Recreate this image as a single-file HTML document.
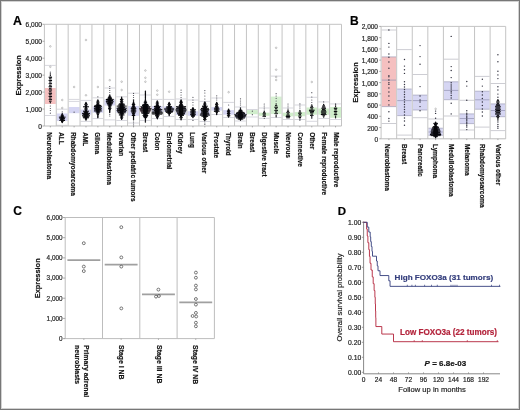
<!DOCTYPE html>
<html><head><meta charset="utf-8"><style>
html,body{margin:0;padding:0;background:#fff;}
body{width:520px;height:410px;overflow:hidden;}
svg{display:block;font-family:"Liberation Sans", sans-serif;will-change:transform;}
text{stroke:currentColor;stroke-width:0.18px;}
</style></head><body>
<svg width="520" height="410" viewBox="0 0 520 410">
<rect x="0" y="0" width="520" height="410" fill="#fff"/>
<rect x="44.9" y="88" width="10.88" height="16" fill="#e03c3c" fill-opacity="0.32"/>
<rect x="56.78" y="113.5" width="10.88" height="7.5" fill="#4646c8" fill-opacity="0.22"/>
<rect x="68.67" y="107" width="10.88" height="6.2" fill="#4646c8" fill-opacity="0.22"/>
<rect x="80.55" y="109.6" width="10.88" height="5.1" fill="#4646c8" fill-opacity="0.22"/>
<rect x="92.44" y="106.5" width="10.88" height="6.2" fill="#4646c8" fill-opacity="0.22"/>
<rect x="104.32" y="99.4" width="10.88" height="6.1" fill="#4646c8" fill-opacity="0.22"/>
<rect x="116.2" y="107.6" width="10.88" height="5.1" fill="#4646c8" fill-opacity="0.22"/>
<rect x="128.09" y="106" width="10.88" height="9.8" fill="#4646c8" fill-opacity="0.22"/>
<rect x="139.97" y="107" width="10.88" height="5.2" fill="#c04068" fill-opacity="0.25"/>
<rect x="151.86" y="106" width="10.88" height="6" fill="#4646c8" fill-opacity="0.22"/>
<rect x="163.74" y="106.5" width="10.88" height="5.5" fill="#4646c8" fill-opacity="0.22"/>
<rect x="175.62" y="108" width="10.88" height="7" fill="#4646c8" fill-opacity="0.22"/>
<rect x="187.51" y="111.2" width="10.88" height="4.6" fill="#4646c8" fill-opacity="0.22"/>
<rect x="199.39" y="109.6" width="10.88" height="6.2" fill="#4646c8" fill-opacity="0.22"/>
<rect x="211.28" y="107" width="10.88" height="3.6" fill="#4646c8" fill-opacity="0.22"/>
<rect x="223.16" y="110.1" width="10.88" height="4.6" fill="#4646c8" fill-opacity="0.22"/>
<rect x="235.04" y="113" width="10.88" height="5" fill="#4646c8" fill-opacity="0.22"/>
<rect x="246.93" y="110.1" width="10.88" height="4.1" fill="#50c040" fill-opacity="0.27"/>
<rect x="258.81" y="112.7" width="10.88" height="3.1" fill="#50c040" fill-opacity="0.27"/>
<rect x="270.7" y="96.6" width="10.88" height="17.4" fill="#50c040" fill-opacity="0.24"/>
<rect x="282.58" y="112.7" width="10.88" height="3.6" fill="#50c040" fill-opacity="0.27"/>
<rect x="294.46" y="112.1" width="10.88" height="4.1" fill="#50c040" fill-opacity="0.27"/>
<rect x="306.35" y="107.5" width="10.88" height="7.2" fill="#50c040" fill-opacity="0.27"/>
<rect x="318.23" y="108.5" width="10.88" height="6.2" fill="#50c040" fill-opacity="0.27"/>
<rect x="330.12" y="107" width="10.88" height="10.8" fill="#50c040" fill-opacity="0.27"/>
<line x1="45" y1="65.4" x2="55.68" y2="65.4" stroke="#c6c6d0" stroke-width="0.7" />
<line x1="45" y1="115.5" x2="55.68" y2="115.5" stroke="#c6c6d0" stroke-width="0.7" />
<line x1="56.88" y1="109.2" x2="67.57" y2="109.2" stroke="#c6c6d0" stroke-width="0.7" />
<line x1="56.88" y1="125.3" x2="67.57" y2="125.3" stroke="#c6c6d0" stroke-width="0.7" />
<line x1="68.77" y1="99.4" x2="79.45" y2="99.4" stroke="#c6c6d0" stroke-width="0.7" />
<line x1="68.77" y1="101.4" x2="79.45" y2="101.4" stroke="#c6c6d0" stroke-width="0.7" />
<line x1="80.65" y1="100.4" x2="91.34" y2="100.4" stroke="#c6c6d0" stroke-width="0.7" />
<line x1="80.65" y1="121.4" x2="91.34" y2="121.4" stroke="#c6c6d0" stroke-width="0.7" />
<line x1="92.54" y1="97.8" x2="103.22" y2="97.8" stroke="#c6c6d0" stroke-width="0.7" />
<line x1="92.54" y1="118.5" x2="103.22" y2="118.5" stroke="#c6c6d0" stroke-width="0.7" />
<line x1="104.42" y1="88" x2="115.1" y2="88" stroke="#c6c6d0" stroke-width="0.7" />
<line x1="104.42" y1="119.9" x2="115.1" y2="119.9" stroke="#c6c6d0" stroke-width="0.7" />
<line x1="116.3" y1="96.8" x2="126.99" y2="96.8" stroke="#c6c6d0" stroke-width="0.7" />
<line x1="116.3" y1="120.5" x2="126.99" y2="120.5" stroke="#c6c6d0" stroke-width="0.7" />
<line x1="128.19" y1="93.2" x2="138.87" y2="93.2" stroke="#c6c6d0" stroke-width="0.7" />
<line x1="128.19" y1="123" x2="138.87" y2="123" stroke="#c6c6d0" stroke-width="0.7" />
<line x1="140.07" y1="95" x2="150.76" y2="95" stroke="#c6c6d0" stroke-width="0.7" />
<line x1="140.07" y1="120.5" x2="150.76" y2="120.5" stroke="#c6c6d0" stroke-width="0.7" />
<line x1="151.96" y1="99.4" x2="162.64" y2="99.4" stroke="#c6c6d0" stroke-width="0.7" />
<line x1="151.96" y1="118.5" x2="162.64" y2="118.5" stroke="#c6c6d0" stroke-width="0.7" />
<line x1="163.84" y1="99.4" x2="174.52" y2="99.4" stroke="#c6c6d0" stroke-width="0.7" />
<line x1="163.84" y1="116.5" x2="174.52" y2="116.5" stroke="#c6c6d0" stroke-width="0.7" />
<line x1="175.72" y1="99" x2="186.41" y2="99" stroke="#c6c6d0" stroke-width="0.7" />
<line x1="175.72" y1="119.5" x2="186.41" y2="119.5" stroke="#c6c6d0" stroke-width="0.7" />
<line x1="187.61" y1="100" x2="198.29" y2="100" stroke="#c6c6d0" stroke-width="0.7" />
<line x1="187.61" y1="119.5" x2="198.29" y2="119.5" stroke="#c6c6d0" stroke-width="0.7" />
<line x1="199.49" y1="101.4" x2="210.18" y2="101.4" stroke="#c6c6d0" stroke-width="0.7" />
<line x1="199.49" y1="121.5" x2="210.18" y2="121.5" stroke="#c6c6d0" stroke-width="0.7" />
<line x1="211.38" y1="98" x2="222.06" y2="98" stroke="#c6c6d0" stroke-width="0.7" />
<line x1="211.38" y1="114.5" x2="222.06" y2="114.5" stroke="#c6c6d0" stroke-width="0.7" />
<line x1="223.26" y1="102.4" x2="233.94" y2="102.4" stroke="#c6c6d0" stroke-width="0.7" />
<line x1="223.26" y1="117.5" x2="233.94" y2="117.5" stroke="#c6c6d0" stroke-width="0.7" />
<line x1="235.14" y1="107" x2="245.83" y2="107" stroke="#c6c6d0" stroke-width="0.7" />
<line x1="235.14" y1="121" x2="245.83" y2="121" stroke="#c6c6d0" stroke-width="0.7" />
<line x1="247.03" y1="109.5" x2="257.71" y2="109.5" stroke="#c6c6d0" stroke-width="0.7" />
<line x1="247.03" y1="117" x2="257.71" y2="117" stroke="#c6c6d0" stroke-width="0.7" />
<line x1="258.91" y1="108" x2="269.6" y2="108" stroke="#c6c6d0" stroke-width="0.7" />
<line x1="258.91" y1="118.3" x2="269.6" y2="118.3" stroke="#c6c6d0" stroke-width="0.7" />
<line x1="270.8" y1="76.1" x2="281.48" y2="76.1" stroke="#c6c6d0" stroke-width="0.7" />
<line x1="270.8" y1="117.5" x2="281.48" y2="117.5" stroke="#c6c6d0" stroke-width="0.7" />
<line x1="282.68" y1="108" x2="293.36" y2="108" stroke="#c6c6d0" stroke-width="0.7" />
<line x1="282.68" y1="119.5" x2="293.36" y2="119.5" stroke="#c6c6d0" stroke-width="0.7" />
<line x1="294.56" y1="105" x2="305.25" y2="105" stroke="#c6c6d0" stroke-width="0.7" />
<line x1="294.56" y1="119.5" x2="305.25" y2="119.5" stroke="#c6c6d0" stroke-width="0.7" />
<line x1="306.45" y1="97.3" x2="317.13" y2="97.3" stroke="#c6c6d0" stroke-width="0.7" />
<line x1="306.45" y1="121.3" x2="317.13" y2="121.3" stroke="#c6c6d0" stroke-width="0.7" />
<line x1="318.33" y1="101.9" x2="329.02" y2="101.9" stroke="#c6c6d0" stroke-width="0.7" />
<line x1="318.33" y1="118.5" x2="329.02" y2="118.5" stroke="#c6c6d0" stroke-width="0.7" />
<line x1="330.22" y1="103.9" x2="340.9" y2="103.9" stroke="#c6c6d0" stroke-width="0.7" />
<line x1="330.22" y1="119.5" x2="340.9" y2="119.5" stroke="#c6c6d0" stroke-width="0.7" />
<line x1="44.4" y1="24.3" x2="44.4" y2="126" stroke="#c4c4c4" stroke-width="1" />
<line x1="56.28" y1="24.3" x2="56.28" y2="126" stroke="#c4c4c4" stroke-width="1" />
<line x1="68.17" y1="24.3" x2="68.17" y2="126" stroke="#c4c4c4" stroke-width="1" />
<line x1="80.05" y1="24.3" x2="80.05" y2="126" stroke="#c4c4c4" stroke-width="1" />
<line x1="91.94" y1="24.3" x2="91.94" y2="126" stroke="#c4c4c4" stroke-width="1" />
<line x1="103.82" y1="24.3" x2="103.82" y2="126" stroke="#c4c4c4" stroke-width="1" />
<line x1="115.7" y1="24.3" x2="115.7" y2="126" stroke="#c4c4c4" stroke-width="1" />
<line x1="127.59" y1="24.3" x2="127.59" y2="126" stroke="#c4c4c4" stroke-width="1" />
<line x1="139.47" y1="24.3" x2="139.47" y2="126" stroke="#c4c4c4" stroke-width="1" />
<line x1="151.36" y1="24.3" x2="151.36" y2="126" stroke="#c4c4c4" stroke-width="1" />
<line x1="163.24" y1="24.3" x2="163.24" y2="126" stroke="#c4c4c4" stroke-width="1" />
<line x1="175.12" y1="24.3" x2="175.12" y2="126" stroke="#c4c4c4" stroke-width="1" />
<line x1="187.01" y1="24.3" x2="187.01" y2="126" stroke="#c4c4c4" stroke-width="1" />
<line x1="198.89" y1="24.3" x2="198.89" y2="126" stroke="#c4c4c4" stroke-width="1" />
<line x1="210.78" y1="24.3" x2="210.78" y2="126" stroke="#c4c4c4" stroke-width="1" />
<line x1="222.66" y1="24.3" x2="222.66" y2="126" stroke="#c4c4c4" stroke-width="1" />
<line x1="234.54" y1="24.3" x2="234.54" y2="126" stroke="#c4c4c4" stroke-width="1" />
<line x1="246.43" y1="24.3" x2="246.43" y2="126" stroke="#c4c4c4" stroke-width="1" />
<line x1="258.31" y1="24.3" x2="258.31" y2="126" stroke="#c4c4c4" stroke-width="1" />
<line x1="270.2" y1="24.3" x2="270.2" y2="126" stroke="#c4c4c4" stroke-width="1" />
<line x1="282.08" y1="24.3" x2="282.08" y2="126" stroke="#c4c4c4" stroke-width="1" />
<line x1="293.96" y1="24.3" x2="293.96" y2="126" stroke="#c4c4c4" stroke-width="1" />
<line x1="305.85" y1="24.3" x2="305.85" y2="126" stroke="#c4c4c4" stroke-width="1" />
<line x1="317.73" y1="24.3" x2="317.73" y2="126" stroke="#c4c4c4" stroke-width="1" />
<line x1="329.62" y1="24.3" x2="329.62" y2="126" stroke="#c4c4c4" stroke-width="1" />
<line x1="341.5" y1="24.3" x2="341.5" y2="126" stroke="#c4c4c4" stroke-width="1" />
<line x1="44.4" y1="24.3" x2="341.5" y2="24.3" stroke="#c4c4c4" stroke-width="1" />
<line x1="44.4" y1="126" x2="341.5" y2="126" stroke="#bbbbbb" stroke-width="1" />
<circle cx="50.34" cy="74" r="0.7" fill="#08080c"/>
<circle cx="50.34" cy="75.6" r="0.7" fill="#08080c"/>
<circle cx="49.24" cy="77.2" r="0.7" fill="#08080c"/>
<circle cx="50.34" cy="77.2" r="0.7" fill="#08080c"/>
<circle cx="51.44" cy="77.2" r="0.7" fill="#08080c"/>
<circle cx="49.79" cy="78.8" r="0.7" fill="#08080c"/>
<circle cx="50.89" cy="78.8" r="0.7" fill="#08080c"/>
<circle cx="49.24" cy="80.4" r="0.7" fill="#08080c"/>
<circle cx="50.34" cy="80.4" r="0.7" fill="#08080c"/>
<circle cx="51.44" cy="80.4" r="0.7" fill="#08080c"/>
<circle cx="49.79" cy="82" r="0.7" fill="#08080c"/>
<circle cx="50.89" cy="82" r="0.7" fill="#08080c"/>
<circle cx="49.24" cy="83.6" r="0.7" fill="#08080c"/>
<circle cx="50.34" cy="83.6" r="0.7" fill="#08080c"/>
<circle cx="51.44" cy="83.6" r="0.7" fill="#08080c"/>
<circle cx="49.79" cy="85.2" r="0.7" fill="#08080c"/>
<circle cx="50.89" cy="85.2" r="0.7" fill="#08080c"/>
<circle cx="49.24" cy="86.8" r="0.7" fill="#08080c"/>
<circle cx="50.34" cy="86.8" r="0.7" fill="#08080c"/>
<circle cx="51.44" cy="86.8" r="0.7" fill="#08080c"/>
<circle cx="49.79" cy="88.4" r="0.7" fill="#08080c"/>
<circle cx="50.89" cy="88.4" r="0.7" fill="#08080c"/>
<circle cx="49.24" cy="90" r="0.7" fill="#08080c"/>
<circle cx="50.34" cy="90" r="0.7" fill="#08080c"/>
<circle cx="51.44" cy="90" r="0.7" fill="#08080c"/>
<circle cx="49.79" cy="91.6" r="0.7" fill="#08080c"/>
<circle cx="50.89" cy="91.6" r="0.7" fill="#08080c"/>
<circle cx="49.24" cy="93.2" r="0.7" fill="#08080c"/>
<circle cx="50.34" cy="93.2" r="0.7" fill="#08080c"/>
<circle cx="51.44" cy="93.2" r="0.7" fill="#08080c"/>
<circle cx="49.79" cy="94.8" r="0.7" fill="#08080c"/>
<circle cx="50.89" cy="94.8" r="0.7" fill="#08080c"/>
<circle cx="49.24" cy="96.4" r="0.7" fill="#08080c"/>
<circle cx="50.34" cy="96.4" r="0.7" fill="#08080c"/>
<circle cx="51.44" cy="96.4" r="0.7" fill="#08080c"/>
<circle cx="49.79" cy="98" r="0.7" fill="#08080c"/>
<circle cx="50.89" cy="98" r="0.7" fill="#08080c"/>
<circle cx="49.24" cy="99.6" r="0.7" fill="#08080c"/>
<circle cx="50.34" cy="99.6" r="0.7" fill="#08080c"/>
<circle cx="51.44" cy="99.6" r="0.7" fill="#08080c"/>
<circle cx="49.79" cy="101.2" r="0.7" fill="#08080c"/>
<circle cx="50.89" cy="101.2" r="0.7" fill="#08080c"/>
<circle cx="50.34" cy="102.8" r="0.7" fill="#08080c"/>
<circle cx="50.34" cy="72.2" r="0.62" fill="#505058"/>
<circle cx="50.34" cy="106" r="0.62" fill="#505058"/>
<circle cx="50.34" cy="108.5" r="0.62" fill="#505058"/>
<circle cx="50.34" cy="110.5" r="0.62" fill="#505058"/>
<circle cx="50.34" cy="113.2" r="0.62" fill="#505058"/>
<circle cx="50.34" cy="46.4" r="0.8" fill="none" stroke="#999" stroke-width="0.55"/>
<circle cx="50.34" cy="66.8" r="0.8" fill="none" stroke="#999" stroke-width="0.55"/>
<polygon points="62.03,113.8 61.48,115 60.33,117.8 61.23,119 60.93,120.5 61.48,122 62.08,123 62.38,123 62.98,122 63.53,120.5 63.23,119 64.13,117.8 62.98,115 62.43,113.8" fill="#08080c"/>
<circle cx="62.23" cy="113.8" r="0.7" fill="#08080c"/>
<circle cx="61.68" cy="114.9" r="0.7" fill="#08080c"/>
<circle cx="62.78" cy="114.9" r="0.7" fill="#08080c"/>
<circle cx="61.13" cy="116" r="0.7" fill="#08080c"/>
<circle cx="62.23" cy="116" r="0.7" fill="#08080c"/>
<circle cx="63.33" cy="116" r="0.7" fill="#08080c"/>
<circle cx="59.48" cy="117.1" r="0.7" fill="#08080c"/>
<circle cx="60.58" cy="117.1" r="0.7" fill="#08080c"/>
<circle cx="61.68" cy="117.1" r="0.7" fill="#08080c"/>
<circle cx="62.78" cy="117.1" r="0.7" fill="#08080c"/>
<circle cx="63.88" cy="117.1" r="0.7" fill="#08080c"/>
<circle cx="64.98" cy="117.1" r="0.7" fill="#08080c"/>
<circle cx="60.03" cy="118.2" r="0.7" fill="#08080c"/>
<circle cx="61.13" cy="118.2" r="0.7" fill="#08080c"/>
<circle cx="62.23" cy="118.2" r="0.7" fill="#08080c"/>
<circle cx="63.33" cy="118.2" r="0.7" fill="#08080c"/>
<circle cx="64.43" cy="118.2" r="0.7" fill="#08080c"/>
<circle cx="60.58" cy="119.3" r="0.7" fill="#08080c"/>
<circle cx="61.68" cy="119.3" r="0.7" fill="#08080c"/>
<circle cx="62.78" cy="119.3" r="0.7" fill="#08080c"/>
<circle cx="63.88" cy="119.3" r="0.7" fill="#08080c"/>
<circle cx="60.03" cy="120.4" r="0.7" fill="#08080c"/>
<circle cx="61.13" cy="120.4" r="0.7" fill="#08080c"/>
<circle cx="62.23" cy="120.4" r="0.7" fill="#08080c"/>
<circle cx="63.33" cy="120.4" r="0.7" fill="#08080c"/>
<circle cx="64.43" cy="120.4" r="0.7" fill="#08080c"/>
<circle cx="61.68" cy="121.5" r="0.7" fill="#08080c"/>
<circle cx="62.78" cy="121.5" r="0.7" fill="#08080c"/>
<circle cx="62.23" cy="122.6" r="0.7" fill="#08080c"/>
<circle cx="62.23" cy="111.9" r="0.62" fill="#505058"/>
<circle cx="62.23" cy="100" r="0.8" fill="none" stroke="#999" stroke-width="0.55"/>
<circle cx="62.23" cy="108" r="0.8" fill="none" stroke="#999" stroke-width="0.55"/>
<circle cx="74.11" cy="112.2" r="0.62" fill="#505058"/>
<circle cx="74.11" cy="87" r="0.8" fill="none" stroke="#999" stroke-width="0.55"/>
<polygon points="85.79,102.4 85.49,103.5 85.49,105.5 84.74,107 85.39,108 85.19,110 84.19,113.5 84.19,117 85.24,119 85.84,120.3 86.14,120.3 86.74,119 87.79,117 87.79,113.5 86.79,110 86.59,108 87.24,107 86.49,105.5 86.49,103.5 86.19,102.4" fill="#08080c"/>
<circle cx="85.99" cy="102.4" r="0.7" fill="#08080c"/>
<circle cx="85.44" cy="103.5" r="0.7" fill="#08080c"/>
<circle cx="86.54" cy="103.5" r="0.7" fill="#08080c"/>
<circle cx="84.89" cy="104.6" r="0.7" fill="#08080c"/>
<circle cx="85.99" cy="104.6" r="0.7" fill="#08080c"/>
<circle cx="87.09" cy="104.6" r="0.7" fill="#08080c"/>
<circle cx="85.44" cy="105.7" r="0.7" fill="#08080c"/>
<circle cx="86.54" cy="105.7" r="0.7" fill="#08080c"/>
<circle cx="83.79" cy="106.8" r="0.7" fill="#08080c"/>
<circle cx="84.89" cy="106.8" r="0.7" fill="#08080c"/>
<circle cx="85.99" cy="106.8" r="0.7" fill="#08080c"/>
<circle cx="87.09" cy="106.8" r="0.7" fill="#08080c"/>
<circle cx="88.19" cy="106.8" r="0.7" fill="#08080c"/>
<circle cx="85.44" cy="107.9" r="0.7" fill="#08080c"/>
<circle cx="86.54" cy="107.9" r="0.7" fill="#08080c"/>
<circle cx="84.89" cy="109" r="0.7" fill="#08080c"/>
<circle cx="85.99" cy="109" r="0.7" fill="#08080c"/>
<circle cx="87.09" cy="109" r="0.7" fill="#08080c"/>
<circle cx="85.44" cy="110.1" r="0.7" fill="#08080c"/>
<circle cx="86.54" cy="110.1" r="0.7" fill="#08080c"/>
<circle cx="83.79" cy="111.2" r="0.7" fill="#08080c"/>
<circle cx="84.89" cy="111.2" r="0.7" fill="#08080c"/>
<circle cx="85.99" cy="111.2" r="0.7" fill="#08080c"/>
<circle cx="87.09" cy="111.2" r="0.7" fill="#08080c"/>
<circle cx="88.19" cy="111.2" r="0.7" fill="#08080c"/>
<circle cx="84.34" cy="112.3" r="0.7" fill="#08080c"/>
<circle cx="85.44" cy="112.3" r="0.7" fill="#08080c"/>
<circle cx="86.54" cy="112.3" r="0.7" fill="#08080c"/>
<circle cx="87.64" cy="112.3" r="0.7" fill="#08080c"/>
<circle cx="82.69" cy="113.4" r="0.7" fill="#08080c"/>
<circle cx="83.79" cy="113.4" r="0.7" fill="#08080c"/>
<circle cx="84.89" cy="113.4" r="0.7" fill="#08080c"/>
<circle cx="85.99" cy="113.4" r="0.7" fill="#08080c"/>
<circle cx="87.09" cy="113.4" r="0.7" fill="#08080c"/>
<circle cx="88.19" cy="113.4" r="0.7" fill="#08080c"/>
<circle cx="89.29" cy="113.4" r="0.7" fill="#08080c"/>
<circle cx="83.24" cy="114.5" r="0.7" fill="#08080c"/>
<circle cx="84.34" cy="114.5" r="0.7" fill="#08080c"/>
<circle cx="85.44" cy="114.5" r="0.7" fill="#08080c"/>
<circle cx="86.54" cy="114.5" r="0.7" fill="#08080c"/>
<circle cx="87.64" cy="114.5" r="0.7" fill="#08080c"/>
<circle cx="88.74" cy="114.5" r="0.7" fill="#08080c"/>
<circle cx="82.69" cy="115.6" r="0.7" fill="#08080c"/>
<circle cx="83.79" cy="115.6" r="0.7" fill="#08080c"/>
<circle cx="84.89" cy="115.6" r="0.7" fill="#08080c"/>
<circle cx="85.99" cy="115.6" r="0.7" fill="#08080c"/>
<circle cx="87.09" cy="115.6" r="0.7" fill="#08080c"/>
<circle cx="88.19" cy="115.6" r="0.7" fill="#08080c"/>
<circle cx="89.29" cy="115.6" r="0.7" fill="#08080c"/>
<circle cx="83.24" cy="116.7" r="0.7" fill="#08080c"/>
<circle cx="84.34" cy="116.7" r="0.7" fill="#08080c"/>
<circle cx="85.44" cy="116.7" r="0.7" fill="#08080c"/>
<circle cx="86.54" cy="116.7" r="0.7" fill="#08080c"/>
<circle cx="87.64" cy="116.7" r="0.7" fill="#08080c"/>
<circle cx="88.74" cy="116.7" r="0.7" fill="#08080c"/>
<circle cx="83.79" cy="117.8" r="0.7" fill="#08080c"/>
<circle cx="84.89" cy="117.8" r="0.7" fill="#08080c"/>
<circle cx="85.99" cy="117.8" r="0.7" fill="#08080c"/>
<circle cx="87.09" cy="117.8" r="0.7" fill="#08080c"/>
<circle cx="88.19" cy="117.8" r="0.7" fill="#08080c"/>
<circle cx="85.44" cy="118.9" r="0.7" fill="#08080c"/>
<circle cx="86.54" cy="118.9" r="0.7" fill="#08080c"/>
<circle cx="85.99" cy="120" r="0.7" fill="#08080c"/>
<circle cx="85.99" cy="40" r="0.8" fill="none" stroke="#999" stroke-width="0.55"/>
<circle cx="85.99" cy="95.3" r="0.8" fill="none" stroke="#999" stroke-width="0.55"/>
<polygon points="97.68,99.9 97.28,101 97.28,104 96.08,106 96.08,111 97.28,113 97.68,118.3 98.08,118.3 98.48,113 99.68,111 99.68,106 98.48,104 98.48,101 98.08,99.9" fill="#08080c"/>
<circle cx="97.88" cy="99.9" r="0.7" fill="#08080c"/>
<circle cx="97.33" cy="101" r="0.7" fill="#08080c"/>
<circle cx="98.43" cy="101" r="0.7" fill="#08080c"/>
<circle cx="96.78" cy="102.1" r="0.7" fill="#08080c"/>
<circle cx="97.88" cy="102.1" r="0.7" fill="#08080c"/>
<circle cx="98.98" cy="102.1" r="0.7" fill="#08080c"/>
<circle cx="97.33" cy="103.2" r="0.7" fill="#08080c"/>
<circle cx="98.43" cy="103.2" r="0.7" fill="#08080c"/>
<circle cx="96.78" cy="104.3" r="0.7" fill="#08080c"/>
<circle cx="97.88" cy="104.3" r="0.7" fill="#08080c"/>
<circle cx="98.98" cy="104.3" r="0.7" fill="#08080c"/>
<circle cx="95.13" cy="105.4" r="0.7" fill="#08080c"/>
<circle cx="96.23" cy="105.4" r="0.7" fill="#08080c"/>
<circle cx="97.33" cy="105.4" r="0.7" fill="#08080c"/>
<circle cx="98.43" cy="105.4" r="0.7" fill="#08080c"/>
<circle cx="99.53" cy="105.4" r="0.7" fill="#08080c"/>
<circle cx="100.63" cy="105.4" r="0.7" fill="#08080c"/>
<circle cx="94.58" cy="106.5" r="0.7" fill="#08080c"/>
<circle cx="95.68" cy="106.5" r="0.7" fill="#08080c"/>
<circle cx="96.78" cy="106.5" r="0.7" fill="#08080c"/>
<circle cx="97.88" cy="106.5" r="0.7" fill="#08080c"/>
<circle cx="98.98" cy="106.5" r="0.7" fill="#08080c"/>
<circle cx="100.08" cy="106.5" r="0.7" fill="#08080c"/>
<circle cx="101.18" cy="106.5" r="0.7" fill="#08080c"/>
<circle cx="95.13" cy="107.6" r="0.7" fill="#08080c"/>
<circle cx="96.23" cy="107.6" r="0.7" fill="#08080c"/>
<circle cx="97.33" cy="107.6" r="0.7" fill="#08080c"/>
<circle cx="98.43" cy="107.6" r="0.7" fill="#08080c"/>
<circle cx="99.53" cy="107.6" r="0.7" fill="#08080c"/>
<circle cx="100.63" cy="107.6" r="0.7" fill="#08080c"/>
<circle cx="94.58" cy="108.7" r="0.7" fill="#08080c"/>
<circle cx="95.68" cy="108.7" r="0.7" fill="#08080c"/>
<circle cx="96.78" cy="108.7" r="0.7" fill="#08080c"/>
<circle cx="97.88" cy="108.7" r="0.7" fill="#08080c"/>
<circle cx="98.98" cy="108.7" r="0.7" fill="#08080c"/>
<circle cx="100.08" cy="108.7" r="0.7" fill="#08080c"/>
<circle cx="101.18" cy="108.7" r="0.7" fill="#08080c"/>
<circle cx="95.13" cy="109.8" r="0.7" fill="#08080c"/>
<circle cx="96.23" cy="109.8" r="0.7" fill="#08080c"/>
<circle cx="97.33" cy="109.8" r="0.7" fill="#08080c"/>
<circle cx="98.43" cy="109.8" r="0.7" fill="#08080c"/>
<circle cx="99.53" cy="109.8" r="0.7" fill="#08080c"/>
<circle cx="100.63" cy="109.8" r="0.7" fill="#08080c"/>
<circle cx="94.58" cy="110.9" r="0.7" fill="#08080c"/>
<circle cx="95.68" cy="110.9" r="0.7" fill="#08080c"/>
<circle cx="96.78" cy="110.9" r="0.7" fill="#08080c"/>
<circle cx="97.88" cy="110.9" r="0.7" fill="#08080c"/>
<circle cx="98.98" cy="110.9" r="0.7" fill="#08080c"/>
<circle cx="100.08" cy="110.9" r="0.7" fill="#08080c"/>
<circle cx="101.18" cy="110.9" r="0.7" fill="#08080c"/>
<circle cx="96.23" cy="112" r="0.7" fill="#08080c"/>
<circle cx="97.33" cy="112" r="0.7" fill="#08080c"/>
<circle cx="98.43" cy="112" r="0.7" fill="#08080c"/>
<circle cx="99.53" cy="112" r="0.7" fill="#08080c"/>
<circle cx="96.78" cy="113.1" r="0.7" fill="#08080c"/>
<circle cx="97.88" cy="113.1" r="0.7" fill="#08080c"/>
<circle cx="98.98" cy="113.1" r="0.7" fill="#08080c"/>
<circle cx="97.33" cy="114.2" r="0.7" fill="#08080c"/>
<circle cx="98.43" cy="114.2" r="0.7" fill="#08080c"/>
<circle cx="97.88" cy="115.3" r="0.7" fill="#08080c"/>
<circle cx="97.88" cy="116.4" r="0.7" fill="#08080c"/>
<circle cx="97.88" cy="117.5" r="0.7" fill="#08080c"/>
<circle cx="97.88" cy="96.8" r="0.62" fill="#505058"/>
<circle cx="97.88" cy="87" r="0.8" fill="none" stroke="#999" stroke-width="0.55"/>
<polygon points="109.56,95 109.01,97 108.16,99 108.16,104 109.06,106 109.26,110 109.46,113 110.06,113 110.26,110 110.46,106 111.36,104 111.36,99 110.51,97 109.96,95" fill="#08080c"/>
<circle cx="109.76" cy="95" r="0.7" fill="#08080c"/>
<circle cx="109.21" cy="96.1" r="0.7" fill="#08080c"/>
<circle cx="110.31" cy="96.1" r="0.7" fill="#08080c"/>
<circle cx="108.66" cy="97.2" r="0.7" fill="#08080c"/>
<circle cx="109.76" cy="97.2" r="0.7" fill="#08080c"/>
<circle cx="110.86" cy="97.2" r="0.7" fill="#08080c"/>
<circle cx="108.11" cy="98.3" r="0.7" fill="#08080c"/>
<circle cx="109.21" cy="98.3" r="0.7" fill="#08080c"/>
<circle cx="110.31" cy="98.3" r="0.7" fill="#08080c"/>
<circle cx="111.41" cy="98.3" r="0.7" fill="#08080c"/>
<circle cx="106.46" cy="99.4" r="0.7" fill="#08080c"/>
<circle cx="107.56" cy="99.4" r="0.7" fill="#08080c"/>
<circle cx="108.66" cy="99.4" r="0.7" fill="#08080c"/>
<circle cx="109.76" cy="99.4" r="0.7" fill="#08080c"/>
<circle cx="110.86" cy="99.4" r="0.7" fill="#08080c"/>
<circle cx="111.96" cy="99.4" r="0.7" fill="#08080c"/>
<circle cx="113.06" cy="99.4" r="0.7" fill="#08080c"/>
<circle cx="107.01" cy="100.5" r="0.7" fill="#08080c"/>
<circle cx="108.11" cy="100.5" r="0.7" fill="#08080c"/>
<circle cx="109.21" cy="100.5" r="0.7" fill="#08080c"/>
<circle cx="110.31" cy="100.5" r="0.7" fill="#08080c"/>
<circle cx="111.41" cy="100.5" r="0.7" fill="#08080c"/>
<circle cx="112.51" cy="100.5" r="0.7" fill="#08080c"/>
<circle cx="106.46" cy="101.6" r="0.7" fill="#08080c"/>
<circle cx="107.56" cy="101.6" r="0.7" fill="#08080c"/>
<circle cx="108.66" cy="101.6" r="0.7" fill="#08080c"/>
<circle cx="109.76" cy="101.6" r="0.7" fill="#08080c"/>
<circle cx="110.86" cy="101.6" r="0.7" fill="#08080c"/>
<circle cx="111.96" cy="101.6" r="0.7" fill="#08080c"/>
<circle cx="113.06" cy="101.6" r="0.7" fill="#08080c"/>
<circle cx="107.01" cy="102.7" r="0.7" fill="#08080c"/>
<circle cx="108.11" cy="102.7" r="0.7" fill="#08080c"/>
<circle cx="109.21" cy="102.7" r="0.7" fill="#08080c"/>
<circle cx="110.31" cy="102.7" r="0.7" fill="#08080c"/>
<circle cx="111.41" cy="102.7" r="0.7" fill="#08080c"/>
<circle cx="112.51" cy="102.7" r="0.7" fill="#08080c"/>
<circle cx="107.56" cy="103.8" r="0.7" fill="#08080c"/>
<circle cx="108.66" cy="103.8" r="0.7" fill="#08080c"/>
<circle cx="109.76" cy="103.8" r="0.7" fill="#08080c"/>
<circle cx="110.86" cy="103.8" r="0.7" fill="#08080c"/>
<circle cx="111.96" cy="103.8" r="0.7" fill="#08080c"/>
<circle cx="108.11" cy="104.9" r="0.7" fill="#08080c"/>
<circle cx="109.21" cy="104.9" r="0.7" fill="#08080c"/>
<circle cx="110.31" cy="104.9" r="0.7" fill="#08080c"/>
<circle cx="111.41" cy="104.9" r="0.7" fill="#08080c"/>
<circle cx="108.66" cy="106" r="0.7" fill="#08080c"/>
<circle cx="109.76" cy="106" r="0.7" fill="#08080c"/>
<circle cx="110.86" cy="106" r="0.7" fill="#08080c"/>
<circle cx="109.21" cy="107.1" r="0.7" fill="#08080c"/>
<circle cx="110.31" cy="107.1" r="0.7" fill="#08080c"/>
<circle cx="108.66" cy="108.2" r="0.7" fill="#08080c"/>
<circle cx="109.76" cy="108.2" r="0.7" fill="#08080c"/>
<circle cx="110.86" cy="108.2" r="0.7" fill="#08080c"/>
<circle cx="109.21" cy="109.3" r="0.7" fill="#08080c"/>
<circle cx="110.31" cy="109.3" r="0.7" fill="#08080c"/>
<circle cx="109.76" cy="110.4" r="0.7" fill="#08080c"/>
<circle cx="109.76" cy="111.5" r="0.7" fill="#08080c"/>
<circle cx="109.76" cy="112.6" r="0.7" fill="#08080c"/>
<circle cx="109.76" cy="86.5" r="0.62" fill="#505058"/>
<circle cx="109.76" cy="88.5" r="0.62" fill="#505058"/>
<circle cx="109.76" cy="90.5" r="0.62" fill="#505058"/>
<circle cx="109.76" cy="92.5" r="0.62" fill="#505058"/>
<circle cx="109.76" cy="114.5" r="0.62" fill="#505058"/>
<circle cx="109.76" cy="116" r="0.62" fill="#505058"/>
<circle cx="109.76" cy="80.2" r="0.8" fill="none" stroke="#999" stroke-width="0.55"/>
<polygon points="121.45,97.3 121.05,99 121.05,103 120.4,103.5 119.7,104.5 119.35,109.6 119.85,112 120.4,114 120.9,117 121.45,119.9 121.85,119.9 122.4,117 122.9,114 123.45,112 123.95,109.6 123.6,104.5 122.9,103.5 122.25,103 122.25,99 121.85,97.3" fill="#08080c"/>
<circle cx="121.65" cy="97.3" r="0.7" fill="#08080c"/>
<circle cx="121.65" cy="98.4" r="0.7" fill="#08080c"/>
<circle cx="120.55" cy="99.5" r="0.7" fill="#08080c"/>
<circle cx="121.65" cy="99.5" r="0.7" fill="#08080c"/>
<circle cx="122.75" cy="99.5" r="0.7" fill="#08080c"/>
<circle cx="121.1" cy="100.6" r="0.7" fill="#08080c"/>
<circle cx="122.2" cy="100.6" r="0.7" fill="#08080c"/>
<circle cx="120.55" cy="101.7" r="0.7" fill="#08080c"/>
<circle cx="121.65" cy="101.7" r="0.7" fill="#08080c"/>
<circle cx="122.75" cy="101.7" r="0.7" fill="#08080c"/>
<circle cx="121.1" cy="102.8" r="0.7" fill="#08080c"/>
<circle cx="122.2" cy="102.8" r="0.7" fill="#08080c"/>
<circle cx="119.45" cy="103.9" r="0.7" fill="#08080c"/>
<circle cx="120.55" cy="103.9" r="0.7" fill="#08080c"/>
<circle cx="121.65" cy="103.9" r="0.7" fill="#08080c"/>
<circle cx="122.75" cy="103.9" r="0.7" fill="#08080c"/>
<circle cx="123.85" cy="103.9" r="0.7" fill="#08080c"/>
<circle cx="118.9" cy="105" r="0.7" fill="#08080c"/>
<circle cx="120" cy="105" r="0.7" fill="#08080c"/>
<circle cx="121.1" cy="105" r="0.7" fill="#08080c"/>
<circle cx="122.2" cy="105" r="0.7" fill="#08080c"/>
<circle cx="123.3" cy="105" r="0.7" fill="#08080c"/>
<circle cx="124.4" cy="105" r="0.7" fill="#08080c"/>
<circle cx="117.25" cy="106.1" r="0.7" fill="#08080c"/>
<circle cx="118.35" cy="106.1" r="0.7" fill="#08080c"/>
<circle cx="119.45" cy="106.1" r="0.7" fill="#08080c"/>
<circle cx="120.55" cy="106.1" r="0.7" fill="#08080c"/>
<circle cx="121.65" cy="106.1" r="0.7" fill="#08080c"/>
<circle cx="122.75" cy="106.1" r="0.7" fill="#08080c"/>
<circle cx="123.85" cy="106.1" r="0.7" fill="#08080c"/>
<circle cx="124.95" cy="106.1" r="0.7" fill="#08080c"/>
<circle cx="126.05" cy="106.1" r="0.7" fill="#08080c"/>
<circle cx="118.9" cy="107.2" r="0.7" fill="#08080c"/>
<circle cx="120" cy="107.2" r="0.7" fill="#08080c"/>
<circle cx="121.1" cy="107.2" r="0.7" fill="#08080c"/>
<circle cx="122.2" cy="107.2" r="0.7" fill="#08080c"/>
<circle cx="123.3" cy="107.2" r="0.7" fill="#08080c"/>
<circle cx="124.4" cy="107.2" r="0.7" fill="#08080c"/>
<circle cx="117.25" cy="108.3" r="0.7" fill="#08080c"/>
<circle cx="118.35" cy="108.3" r="0.7" fill="#08080c"/>
<circle cx="119.45" cy="108.3" r="0.7" fill="#08080c"/>
<circle cx="120.55" cy="108.3" r="0.7" fill="#08080c"/>
<circle cx="121.65" cy="108.3" r="0.7" fill="#08080c"/>
<circle cx="122.75" cy="108.3" r="0.7" fill="#08080c"/>
<circle cx="123.85" cy="108.3" r="0.7" fill="#08080c"/>
<circle cx="124.95" cy="108.3" r="0.7" fill="#08080c"/>
<circle cx="126.05" cy="108.3" r="0.7" fill="#08080c"/>
<circle cx="117.8" cy="109.4" r="0.7" fill="#08080c"/>
<circle cx="118.9" cy="109.4" r="0.7" fill="#08080c"/>
<circle cx="120" cy="109.4" r="0.7" fill="#08080c"/>
<circle cx="121.1" cy="109.4" r="0.7" fill="#08080c"/>
<circle cx="122.2" cy="109.4" r="0.7" fill="#08080c"/>
<circle cx="123.3" cy="109.4" r="0.7" fill="#08080c"/>
<circle cx="124.4" cy="109.4" r="0.7" fill="#08080c"/>
<circle cx="125.5" cy="109.4" r="0.7" fill="#08080c"/>
<circle cx="117.25" cy="110.5" r="0.7" fill="#08080c"/>
<circle cx="118.35" cy="110.5" r="0.7" fill="#08080c"/>
<circle cx="119.45" cy="110.5" r="0.7" fill="#08080c"/>
<circle cx="120.55" cy="110.5" r="0.7" fill="#08080c"/>
<circle cx="121.65" cy="110.5" r="0.7" fill="#08080c"/>
<circle cx="122.75" cy="110.5" r="0.7" fill="#08080c"/>
<circle cx="123.85" cy="110.5" r="0.7" fill="#08080c"/>
<circle cx="124.95" cy="110.5" r="0.7" fill="#08080c"/>
<circle cx="126.05" cy="110.5" r="0.7" fill="#08080c"/>
<circle cx="117.8" cy="111.6" r="0.7" fill="#08080c"/>
<circle cx="118.9" cy="111.6" r="0.7" fill="#08080c"/>
<circle cx="120" cy="111.6" r="0.7" fill="#08080c"/>
<circle cx="121.1" cy="111.6" r="0.7" fill="#08080c"/>
<circle cx="122.2" cy="111.6" r="0.7" fill="#08080c"/>
<circle cx="123.3" cy="111.6" r="0.7" fill="#08080c"/>
<circle cx="124.4" cy="111.6" r="0.7" fill="#08080c"/>
<circle cx="125.5" cy="111.6" r="0.7" fill="#08080c"/>
<circle cx="118.35" cy="112.7" r="0.7" fill="#08080c"/>
<circle cx="119.45" cy="112.7" r="0.7" fill="#08080c"/>
<circle cx="120.55" cy="112.7" r="0.7" fill="#08080c"/>
<circle cx="121.65" cy="112.7" r="0.7" fill="#08080c"/>
<circle cx="122.75" cy="112.7" r="0.7" fill="#08080c"/>
<circle cx="123.85" cy="112.7" r="0.7" fill="#08080c"/>
<circle cx="124.95" cy="112.7" r="0.7" fill="#08080c"/>
<circle cx="120" cy="113.8" r="0.7" fill="#08080c"/>
<circle cx="121.1" cy="113.8" r="0.7" fill="#08080c"/>
<circle cx="122.2" cy="113.8" r="0.7" fill="#08080c"/>
<circle cx="123.3" cy="113.8" r="0.7" fill="#08080c"/>
<circle cx="119.45" cy="114.9" r="0.7" fill="#08080c"/>
<circle cx="120.55" cy="114.9" r="0.7" fill="#08080c"/>
<circle cx="121.65" cy="114.9" r="0.7" fill="#08080c"/>
<circle cx="122.75" cy="114.9" r="0.7" fill="#08080c"/>
<circle cx="123.85" cy="114.9" r="0.7" fill="#08080c"/>
<circle cx="121.1" cy="116" r="0.7" fill="#08080c"/>
<circle cx="122.2" cy="116" r="0.7" fill="#08080c"/>
<circle cx="120.55" cy="117.1" r="0.7" fill="#08080c"/>
<circle cx="121.65" cy="117.1" r="0.7" fill="#08080c"/>
<circle cx="122.75" cy="117.1" r="0.7" fill="#08080c"/>
<circle cx="121.1" cy="118.2" r="0.7" fill="#08080c"/>
<circle cx="122.2" cy="118.2" r="0.7" fill="#08080c"/>
<circle cx="121.65" cy="119.3" r="0.7" fill="#08080c"/>
<circle cx="121.65" cy="81.7" r="0.8" fill="none" stroke="#999" stroke-width="0.55"/>
<circle cx="121.65" cy="90" r="0.8" fill="none" stroke="#999" stroke-width="0.55"/>
<polygon points="133.33,100 132.88,104 132.38,109 132.73,113 133.08,117 133.33,120 133.73,120 133.98,117 134.33,113 134.68,109 134.18,104 133.73,100" fill="#08080c"/>
<circle cx="133.53" cy="100" r="0.7" fill="#08080c"/>
<circle cx="133.53" cy="101.1" r="0.7" fill="#08080c"/>
<circle cx="133.53" cy="102.2" r="0.7" fill="#08080c"/>
<circle cx="132.98" cy="103.3" r="0.7" fill="#08080c"/>
<circle cx="134.08" cy="103.3" r="0.7" fill="#08080c"/>
<circle cx="132.43" cy="104.4" r="0.7" fill="#08080c"/>
<circle cx="133.53" cy="104.4" r="0.7" fill="#08080c"/>
<circle cx="134.63" cy="104.4" r="0.7" fill="#08080c"/>
<circle cx="132.98" cy="105.5" r="0.7" fill="#08080c"/>
<circle cx="134.08" cy="105.5" r="0.7" fill="#08080c"/>
<circle cx="132.43" cy="106.6" r="0.7" fill="#08080c"/>
<circle cx="133.53" cy="106.6" r="0.7" fill="#08080c"/>
<circle cx="134.63" cy="106.6" r="0.7" fill="#08080c"/>
<circle cx="131.88" cy="107.7" r="0.7" fill="#08080c"/>
<circle cx="132.98" cy="107.7" r="0.7" fill="#08080c"/>
<circle cx="134.08" cy="107.7" r="0.7" fill="#08080c"/>
<circle cx="135.18" cy="107.7" r="0.7" fill="#08080c"/>
<circle cx="131.33" cy="108.8" r="0.7" fill="#08080c"/>
<circle cx="132.43" cy="108.8" r="0.7" fill="#08080c"/>
<circle cx="133.53" cy="108.8" r="0.7" fill="#08080c"/>
<circle cx="134.63" cy="108.8" r="0.7" fill="#08080c"/>
<circle cx="135.73" cy="108.8" r="0.7" fill="#08080c"/>
<circle cx="131.88" cy="109.9" r="0.7" fill="#08080c"/>
<circle cx="132.98" cy="109.9" r="0.7" fill="#08080c"/>
<circle cx="134.08" cy="109.9" r="0.7" fill="#08080c"/>
<circle cx="135.18" cy="109.9" r="0.7" fill="#08080c"/>
<circle cx="131.33" cy="111" r="0.7" fill="#08080c"/>
<circle cx="132.43" cy="111" r="0.7" fill="#08080c"/>
<circle cx="133.53" cy="111" r="0.7" fill="#08080c"/>
<circle cx="134.63" cy="111" r="0.7" fill="#08080c"/>
<circle cx="135.73" cy="111" r="0.7" fill="#08080c"/>
<circle cx="131.88" cy="112.1" r="0.7" fill="#08080c"/>
<circle cx="132.98" cy="112.1" r="0.7" fill="#08080c"/>
<circle cx="134.08" cy="112.1" r="0.7" fill="#08080c"/>
<circle cx="135.18" cy="112.1" r="0.7" fill="#08080c"/>
<circle cx="132.43" cy="113.2" r="0.7" fill="#08080c"/>
<circle cx="133.53" cy="113.2" r="0.7" fill="#08080c"/>
<circle cx="134.63" cy="113.2" r="0.7" fill="#08080c"/>
<circle cx="132.98" cy="114.3" r="0.7" fill="#08080c"/>
<circle cx="134.08" cy="114.3" r="0.7" fill="#08080c"/>
<circle cx="132.43" cy="115.4" r="0.7" fill="#08080c"/>
<circle cx="133.53" cy="115.4" r="0.7" fill="#08080c"/>
<circle cx="134.63" cy="115.4" r="0.7" fill="#08080c"/>
<circle cx="133.53" cy="116.5" r="0.7" fill="#08080c"/>
<circle cx="133.53" cy="117.6" r="0.7" fill="#08080c"/>
<circle cx="133.53" cy="118.7" r="0.7" fill="#08080c"/>
<circle cx="133.53" cy="119.8" r="0.7" fill="#08080c"/>
<circle cx="133.53" cy="93.4" r="0.62" fill="#505058"/>
<circle cx="133.53" cy="95.5" r="0.62" fill="#505058"/>
<circle cx="133.53" cy="97.5" r="0.62" fill="#505058"/>
<circle cx="133.53" cy="122" r="0.62" fill="#505058"/>
<circle cx="133.53" cy="124" r="0.62" fill="#505058"/>
<circle cx="133.53" cy="126" r="0.62" fill="#505058"/>
<polygon points="145.26,91.2 145.01,93 145.01,100 144.66,102 144.61,104 143.16,105 142.76,109.6 143.16,113 144.11,114 144.11,117 144.91,118 145.26,122 145.56,122 145.91,118 146.71,117 146.71,114 147.66,113 148.06,109.6 147.66,105 146.21,104 146.16,102 145.81,100 145.81,93 145.56,91.2" fill="#08080c"/>
<circle cx="145.41" cy="91.2" r="0.7" fill="#08080c"/>
<circle cx="145.41" cy="92.3" r="0.7" fill="#08080c"/>
<circle cx="145.41" cy="93.4" r="0.7" fill="#08080c"/>
<circle cx="145.41" cy="94.5" r="0.7" fill="#08080c"/>
<circle cx="145.41" cy="95.6" r="0.7" fill="#08080c"/>
<circle cx="145.41" cy="96.7" r="0.7" fill="#08080c"/>
<circle cx="145.41" cy="97.8" r="0.7" fill="#08080c"/>
<circle cx="145.41" cy="98.9" r="0.7" fill="#08080c"/>
<circle cx="145.41" cy="100" r="0.7" fill="#08080c"/>
<circle cx="144.86" cy="101.1" r="0.7" fill="#08080c"/>
<circle cx="145.96" cy="101.1" r="0.7" fill="#08080c"/>
<circle cx="144.31" cy="102.2" r="0.7" fill="#08080c"/>
<circle cx="145.41" cy="102.2" r="0.7" fill="#08080c"/>
<circle cx="146.51" cy="102.2" r="0.7" fill="#08080c"/>
<circle cx="144.86" cy="103.3" r="0.7" fill="#08080c"/>
<circle cx="145.96" cy="103.3" r="0.7" fill="#08080c"/>
<circle cx="143.21" cy="104.4" r="0.7" fill="#08080c"/>
<circle cx="144.31" cy="104.4" r="0.7" fill="#08080c"/>
<circle cx="145.41" cy="104.4" r="0.7" fill="#08080c"/>
<circle cx="146.51" cy="104.4" r="0.7" fill="#08080c"/>
<circle cx="147.61" cy="104.4" r="0.7" fill="#08080c"/>
<circle cx="142.66" cy="105.5" r="0.7" fill="#08080c"/>
<circle cx="143.76" cy="105.5" r="0.7" fill="#08080c"/>
<circle cx="144.86" cy="105.5" r="0.7" fill="#08080c"/>
<circle cx="145.96" cy="105.5" r="0.7" fill="#08080c"/>
<circle cx="147.06" cy="105.5" r="0.7" fill="#08080c"/>
<circle cx="148.16" cy="105.5" r="0.7" fill="#08080c"/>
<circle cx="141.01" cy="106.6" r="0.7" fill="#08080c"/>
<circle cx="142.11" cy="106.6" r="0.7" fill="#08080c"/>
<circle cx="143.21" cy="106.6" r="0.7" fill="#08080c"/>
<circle cx="144.31" cy="106.6" r="0.7" fill="#08080c"/>
<circle cx="145.41" cy="106.6" r="0.7" fill="#08080c"/>
<circle cx="146.51" cy="106.6" r="0.7" fill="#08080c"/>
<circle cx="147.61" cy="106.6" r="0.7" fill="#08080c"/>
<circle cx="148.71" cy="106.6" r="0.7" fill="#08080c"/>
<circle cx="149.81" cy="106.6" r="0.7" fill="#08080c"/>
<circle cx="141.56" cy="107.7" r="0.7" fill="#08080c"/>
<circle cx="142.66" cy="107.7" r="0.7" fill="#08080c"/>
<circle cx="143.76" cy="107.7" r="0.7" fill="#08080c"/>
<circle cx="144.86" cy="107.7" r="0.7" fill="#08080c"/>
<circle cx="145.96" cy="107.7" r="0.7" fill="#08080c"/>
<circle cx="147.06" cy="107.7" r="0.7" fill="#08080c"/>
<circle cx="148.16" cy="107.7" r="0.7" fill="#08080c"/>
<circle cx="149.26" cy="107.7" r="0.7" fill="#08080c"/>
<circle cx="139.91" cy="108.8" r="0.7" fill="#08080c"/>
<circle cx="141.01" cy="108.8" r="0.7" fill="#08080c"/>
<circle cx="142.11" cy="108.8" r="0.7" fill="#08080c"/>
<circle cx="143.21" cy="108.8" r="0.7" fill="#08080c"/>
<circle cx="144.31" cy="108.8" r="0.7" fill="#08080c"/>
<circle cx="145.41" cy="108.8" r="0.7" fill="#08080c"/>
<circle cx="146.51" cy="108.8" r="0.7" fill="#08080c"/>
<circle cx="147.61" cy="108.8" r="0.7" fill="#08080c"/>
<circle cx="148.71" cy="108.8" r="0.7" fill="#08080c"/>
<circle cx="149.81" cy="108.8" r="0.7" fill="#08080c"/>
<circle cx="150.91" cy="108.8" r="0.7" fill="#08080c"/>
<circle cx="140.46" cy="109.9" r="0.7" fill="#08080c"/>
<circle cx="141.56" cy="109.9" r="0.7" fill="#08080c"/>
<circle cx="142.66" cy="109.9" r="0.7" fill="#08080c"/>
<circle cx="143.76" cy="109.9" r="0.7" fill="#08080c"/>
<circle cx="144.86" cy="109.9" r="0.7" fill="#08080c"/>
<circle cx="145.96" cy="109.9" r="0.7" fill="#08080c"/>
<circle cx="147.06" cy="109.9" r="0.7" fill="#08080c"/>
<circle cx="148.16" cy="109.9" r="0.7" fill="#08080c"/>
<circle cx="149.26" cy="109.9" r="0.7" fill="#08080c"/>
<circle cx="150.36" cy="109.9" r="0.7" fill="#08080c"/>
<circle cx="141.01" cy="111" r="0.7" fill="#08080c"/>
<circle cx="142.11" cy="111" r="0.7" fill="#08080c"/>
<circle cx="143.21" cy="111" r="0.7" fill="#08080c"/>
<circle cx="144.31" cy="111" r="0.7" fill="#08080c"/>
<circle cx="145.41" cy="111" r="0.7" fill="#08080c"/>
<circle cx="146.51" cy="111" r="0.7" fill="#08080c"/>
<circle cx="147.61" cy="111" r="0.7" fill="#08080c"/>
<circle cx="148.71" cy="111" r="0.7" fill="#08080c"/>
<circle cx="149.81" cy="111" r="0.7" fill="#08080c"/>
<circle cx="141.56" cy="112.1" r="0.7" fill="#08080c"/>
<circle cx="142.66" cy="112.1" r="0.7" fill="#08080c"/>
<circle cx="143.76" cy="112.1" r="0.7" fill="#08080c"/>
<circle cx="144.86" cy="112.1" r="0.7" fill="#08080c"/>
<circle cx="145.96" cy="112.1" r="0.7" fill="#08080c"/>
<circle cx="147.06" cy="112.1" r="0.7" fill="#08080c"/>
<circle cx="148.16" cy="112.1" r="0.7" fill="#08080c"/>
<circle cx="149.26" cy="112.1" r="0.7" fill="#08080c"/>
<circle cx="142.11" cy="113.2" r="0.7" fill="#08080c"/>
<circle cx="143.21" cy="113.2" r="0.7" fill="#08080c"/>
<circle cx="144.31" cy="113.2" r="0.7" fill="#08080c"/>
<circle cx="145.41" cy="113.2" r="0.7" fill="#08080c"/>
<circle cx="146.51" cy="113.2" r="0.7" fill="#08080c"/>
<circle cx="147.61" cy="113.2" r="0.7" fill="#08080c"/>
<circle cx="148.71" cy="113.2" r="0.7" fill="#08080c"/>
<circle cx="143.76" cy="114.3" r="0.7" fill="#08080c"/>
<circle cx="144.86" cy="114.3" r="0.7" fill="#08080c"/>
<circle cx="145.96" cy="114.3" r="0.7" fill="#08080c"/>
<circle cx="147.06" cy="114.3" r="0.7" fill="#08080c"/>
<circle cx="143.21" cy="115.4" r="0.7" fill="#08080c"/>
<circle cx="144.31" cy="115.4" r="0.7" fill="#08080c"/>
<circle cx="145.41" cy="115.4" r="0.7" fill="#08080c"/>
<circle cx="146.51" cy="115.4" r="0.7" fill="#08080c"/>
<circle cx="147.61" cy="115.4" r="0.7" fill="#08080c"/>
<circle cx="143.76" cy="116.5" r="0.7" fill="#08080c"/>
<circle cx="144.86" cy="116.5" r="0.7" fill="#08080c"/>
<circle cx="145.96" cy="116.5" r="0.7" fill="#08080c"/>
<circle cx="147.06" cy="116.5" r="0.7" fill="#08080c"/>
<circle cx="144.31" cy="117.6" r="0.7" fill="#08080c"/>
<circle cx="145.41" cy="117.6" r="0.7" fill="#08080c"/>
<circle cx="146.51" cy="117.6" r="0.7" fill="#08080c"/>
<circle cx="145.41" cy="118.7" r="0.7" fill="#08080c"/>
<circle cx="145.41" cy="119.8" r="0.7" fill="#08080c"/>
<circle cx="145.41" cy="120.9" r="0.7" fill="#08080c"/>
<circle cx="145.41" cy="122" r="0.7" fill="#08080c"/>
<circle cx="145.41" cy="70.5" r="0.8" fill="none" stroke="#999" stroke-width="0.55"/>
<circle cx="145.41" cy="77.8" r="0.8" fill="none" stroke="#999" stroke-width="0.55"/>
<circle cx="145.41" cy="81.7" r="0.8" fill="none" stroke="#999" stroke-width="0.55"/>
<polygon points="157.1,100.9 156.55,102 156.55,105 155.8,106 155.8,108 155,109 155,114 156.3,115 157.1,119.4 157.5,119.4 158.3,115 159.6,114 159.6,109 158.8,108 158.8,106 158.05,105 158.05,102 157.5,100.9" fill="#08080c"/>
<circle cx="157.3" cy="100.9" r="0.7" fill="#08080c"/>
<circle cx="156.75" cy="102" r="0.7" fill="#08080c"/>
<circle cx="157.85" cy="102" r="0.7" fill="#08080c"/>
<circle cx="156.2" cy="103.1" r="0.7" fill="#08080c"/>
<circle cx="157.3" cy="103.1" r="0.7" fill="#08080c"/>
<circle cx="158.4" cy="103.1" r="0.7" fill="#08080c"/>
<circle cx="156.75" cy="104.2" r="0.7" fill="#08080c"/>
<circle cx="157.85" cy="104.2" r="0.7" fill="#08080c"/>
<circle cx="156.2" cy="105.3" r="0.7" fill="#08080c"/>
<circle cx="157.3" cy="105.3" r="0.7" fill="#08080c"/>
<circle cx="158.4" cy="105.3" r="0.7" fill="#08080c"/>
<circle cx="154.55" cy="106.4" r="0.7" fill="#08080c"/>
<circle cx="155.65" cy="106.4" r="0.7" fill="#08080c"/>
<circle cx="156.75" cy="106.4" r="0.7" fill="#08080c"/>
<circle cx="157.85" cy="106.4" r="0.7" fill="#08080c"/>
<circle cx="158.95" cy="106.4" r="0.7" fill="#08080c"/>
<circle cx="160.05" cy="106.4" r="0.7" fill="#08080c"/>
<circle cx="155.1" cy="107.5" r="0.7" fill="#08080c"/>
<circle cx="156.2" cy="107.5" r="0.7" fill="#08080c"/>
<circle cx="157.3" cy="107.5" r="0.7" fill="#08080c"/>
<circle cx="158.4" cy="107.5" r="0.7" fill="#08080c"/>
<circle cx="159.5" cy="107.5" r="0.7" fill="#08080c"/>
<circle cx="154.55" cy="108.6" r="0.7" fill="#08080c"/>
<circle cx="155.65" cy="108.6" r="0.7" fill="#08080c"/>
<circle cx="156.75" cy="108.6" r="0.7" fill="#08080c"/>
<circle cx="157.85" cy="108.6" r="0.7" fill="#08080c"/>
<circle cx="158.95" cy="108.6" r="0.7" fill="#08080c"/>
<circle cx="160.05" cy="108.6" r="0.7" fill="#08080c"/>
<circle cx="152.9" cy="109.7" r="0.7" fill="#08080c"/>
<circle cx="154" cy="109.7" r="0.7" fill="#08080c"/>
<circle cx="155.1" cy="109.7" r="0.7" fill="#08080c"/>
<circle cx="156.2" cy="109.7" r="0.7" fill="#08080c"/>
<circle cx="157.3" cy="109.7" r="0.7" fill="#08080c"/>
<circle cx="158.4" cy="109.7" r="0.7" fill="#08080c"/>
<circle cx="159.5" cy="109.7" r="0.7" fill="#08080c"/>
<circle cx="160.6" cy="109.7" r="0.7" fill="#08080c"/>
<circle cx="161.7" cy="109.7" r="0.7" fill="#08080c"/>
<circle cx="154.55" cy="110.8" r="0.7" fill="#08080c"/>
<circle cx="155.65" cy="110.8" r="0.7" fill="#08080c"/>
<circle cx="156.75" cy="110.8" r="0.7" fill="#08080c"/>
<circle cx="157.85" cy="110.8" r="0.7" fill="#08080c"/>
<circle cx="158.95" cy="110.8" r="0.7" fill="#08080c"/>
<circle cx="160.05" cy="110.8" r="0.7" fill="#08080c"/>
<circle cx="152.9" cy="111.9" r="0.7" fill="#08080c"/>
<circle cx="154" cy="111.9" r="0.7" fill="#08080c"/>
<circle cx="155.1" cy="111.9" r="0.7" fill="#08080c"/>
<circle cx="156.2" cy="111.9" r="0.7" fill="#08080c"/>
<circle cx="157.3" cy="111.9" r="0.7" fill="#08080c"/>
<circle cx="158.4" cy="111.9" r="0.7" fill="#08080c"/>
<circle cx="159.5" cy="111.9" r="0.7" fill="#08080c"/>
<circle cx="160.6" cy="111.9" r="0.7" fill="#08080c"/>
<circle cx="161.7" cy="111.9" r="0.7" fill="#08080c"/>
<circle cx="152.35" cy="113" r="0.7" fill="#08080c"/>
<circle cx="153.45" cy="113" r="0.7" fill="#08080c"/>
<circle cx="154.55" cy="113" r="0.7" fill="#08080c"/>
<circle cx="155.65" cy="113" r="0.7" fill="#08080c"/>
<circle cx="156.75" cy="113" r="0.7" fill="#08080c"/>
<circle cx="157.85" cy="113" r="0.7" fill="#08080c"/>
<circle cx="158.95" cy="113" r="0.7" fill="#08080c"/>
<circle cx="160.05" cy="113" r="0.7" fill="#08080c"/>
<circle cx="161.15" cy="113" r="0.7" fill="#08080c"/>
<circle cx="162.25" cy="113" r="0.7" fill="#08080c"/>
<circle cx="152.9" cy="114.1" r="0.7" fill="#08080c"/>
<circle cx="154" cy="114.1" r="0.7" fill="#08080c"/>
<circle cx="155.1" cy="114.1" r="0.7" fill="#08080c"/>
<circle cx="156.2" cy="114.1" r="0.7" fill="#08080c"/>
<circle cx="157.3" cy="114.1" r="0.7" fill="#08080c"/>
<circle cx="158.4" cy="114.1" r="0.7" fill="#08080c"/>
<circle cx="159.5" cy="114.1" r="0.7" fill="#08080c"/>
<circle cx="160.6" cy="114.1" r="0.7" fill="#08080c"/>
<circle cx="161.7" cy="114.1" r="0.7" fill="#08080c"/>
<circle cx="155.65" cy="115.2" r="0.7" fill="#08080c"/>
<circle cx="156.75" cy="115.2" r="0.7" fill="#08080c"/>
<circle cx="157.85" cy="115.2" r="0.7" fill="#08080c"/>
<circle cx="158.95" cy="115.2" r="0.7" fill="#08080c"/>
<circle cx="156.2" cy="116.3" r="0.7" fill="#08080c"/>
<circle cx="157.3" cy="116.3" r="0.7" fill="#08080c"/>
<circle cx="158.4" cy="116.3" r="0.7" fill="#08080c"/>
<circle cx="156.75" cy="117.4" r="0.7" fill="#08080c"/>
<circle cx="157.85" cy="117.4" r="0.7" fill="#08080c"/>
<circle cx="157.3" cy="118.5" r="0.7" fill="#08080c"/>
<circle cx="157.3" cy="90.6" r="0.8" fill="none" stroke="#999" stroke-width="0.55"/>
<circle cx="157.3" cy="94.7" r="0.8" fill="none" stroke="#999" stroke-width="0.55"/>
<polygon points="168.98,102.4 168.43,103.5 168.43,106 167.38,107 167.38,112 168.43,113.5 168.98,115.8 169.38,115.8 169.93,113.5 170.98,112 170.98,107 169.93,106 169.93,103.5 169.38,102.4" fill="#08080c"/>
<circle cx="169.18" cy="102.4" r="0.7" fill="#08080c"/>
<circle cx="168.63" cy="103.5" r="0.7" fill="#08080c"/>
<circle cx="169.73" cy="103.5" r="0.7" fill="#08080c"/>
<circle cx="168.08" cy="104.6" r="0.7" fill="#08080c"/>
<circle cx="169.18" cy="104.6" r="0.7" fill="#08080c"/>
<circle cx="170.28" cy="104.6" r="0.7" fill="#08080c"/>
<circle cx="168.63" cy="105.7" r="0.7" fill="#08080c"/>
<circle cx="169.73" cy="105.7" r="0.7" fill="#08080c"/>
<circle cx="166.98" cy="106.8" r="0.7" fill="#08080c"/>
<circle cx="168.08" cy="106.8" r="0.7" fill="#08080c"/>
<circle cx="169.18" cy="106.8" r="0.7" fill="#08080c"/>
<circle cx="170.28" cy="106.8" r="0.7" fill="#08080c"/>
<circle cx="171.38" cy="106.8" r="0.7" fill="#08080c"/>
<circle cx="166.43" cy="107.9" r="0.7" fill="#08080c"/>
<circle cx="167.53" cy="107.9" r="0.7" fill="#08080c"/>
<circle cx="168.63" cy="107.9" r="0.7" fill="#08080c"/>
<circle cx="169.73" cy="107.9" r="0.7" fill="#08080c"/>
<circle cx="170.83" cy="107.9" r="0.7" fill="#08080c"/>
<circle cx="171.93" cy="107.9" r="0.7" fill="#08080c"/>
<circle cx="164.78" cy="109" r="0.7" fill="#08080c"/>
<circle cx="165.88" cy="109" r="0.7" fill="#08080c"/>
<circle cx="166.98" cy="109" r="0.7" fill="#08080c"/>
<circle cx="168.08" cy="109" r="0.7" fill="#08080c"/>
<circle cx="169.18" cy="109" r="0.7" fill="#08080c"/>
<circle cx="170.28" cy="109" r="0.7" fill="#08080c"/>
<circle cx="171.38" cy="109" r="0.7" fill="#08080c"/>
<circle cx="172.48" cy="109" r="0.7" fill="#08080c"/>
<circle cx="173.58" cy="109" r="0.7" fill="#08080c"/>
<circle cx="165.33" cy="110.1" r="0.7" fill="#08080c"/>
<circle cx="166.43" cy="110.1" r="0.7" fill="#08080c"/>
<circle cx="167.53" cy="110.1" r="0.7" fill="#08080c"/>
<circle cx="168.63" cy="110.1" r="0.7" fill="#08080c"/>
<circle cx="169.73" cy="110.1" r="0.7" fill="#08080c"/>
<circle cx="170.83" cy="110.1" r="0.7" fill="#08080c"/>
<circle cx="171.93" cy="110.1" r="0.7" fill="#08080c"/>
<circle cx="173.03" cy="110.1" r="0.7" fill="#08080c"/>
<circle cx="165.88" cy="111.2" r="0.7" fill="#08080c"/>
<circle cx="166.98" cy="111.2" r="0.7" fill="#08080c"/>
<circle cx="168.08" cy="111.2" r="0.7" fill="#08080c"/>
<circle cx="169.18" cy="111.2" r="0.7" fill="#08080c"/>
<circle cx="170.28" cy="111.2" r="0.7" fill="#08080c"/>
<circle cx="171.38" cy="111.2" r="0.7" fill="#08080c"/>
<circle cx="172.48" cy="111.2" r="0.7" fill="#08080c"/>
<circle cx="166.43" cy="112.3" r="0.7" fill="#08080c"/>
<circle cx="167.53" cy="112.3" r="0.7" fill="#08080c"/>
<circle cx="168.63" cy="112.3" r="0.7" fill="#08080c"/>
<circle cx="169.73" cy="112.3" r="0.7" fill="#08080c"/>
<circle cx="170.83" cy="112.3" r="0.7" fill="#08080c"/>
<circle cx="171.93" cy="112.3" r="0.7" fill="#08080c"/>
<circle cx="168.08" cy="113.4" r="0.7" fill="#08080c"/>
<circle cx="169.18" cy="113.4" r="0.7" fill="#08080c"/>
<circle cx="170.28" cy="113.4" r="0.7" fill="#08080c"/>
<circle cx="169.18" cy="114.5" r="0.7" fill="#08080c"/>
<circle cx="169.18" cy="115.6" r="0.7" fill="#08080c"/>
<circle cx="169.18" cy="91.7" r="0.8" fill="none" stroke="#999" stroke-width="0.55"/>
<polygon points="180.82,100 180.07,101 180.07,105 178.87,107 178.87,112 179.32,115 180.32,116.5 180.87,119.9 181.27,119.9 181.82,116.5 182.82,115 183.27,112 183.27,107 182.07,105 182.07,101 181.32,100" fill="#08080c"/>
<circle cx="181.07" cy="100" r="0.7" fill="#08080c"/>
<circle cx="180.52" cy="101.1" r="0.7" fill="#08080c"/>
<circle cx="181.62" cy="101.1" r="0.7" fill="#08080c"/>
<circle cx="179.97" cy="102.2" r="0.7" fill="#08080c"/>
<circle cx="181.07" cy="102.2" r="0.7" fill="#08080c"/>
<circle cx="182.17" cy="102.2" r="0.7" fill="#08080c"/>
<circle cx="180.52" cy="103.3" r="0.7" fill="#08080c"/>
<circle cx="181.62" cy="103.3" r="0.7" fill="#08080c"/>
<circle cx="179.97" cy="104.4" r="0.7" fill="#08080c"/>
<circle cx="181.07" cy="104.4" r="0.7" fill="#08080c"/>
<circle cx="182.17" cy="104.4" r="0.7" fill="#08080c"/>
<circle cx="179.42" cy="105.5" r="0.7" fill="#08080c"/>
<circle cx="180.52" cy="105.5" r="0.7" fill="#08080c"/>
<circle cx="181.62" cy="105.5" r="0.7" fill="#08080c"/>
<circle cx="182.72" cy="105.5" r="0.7" fill="#08080c"/>
<circle cx="176.67" cy="106.6" r="0.7" fill="#08080c"/>
<circle cx="177.77" cy="106.6" r="0.7" fill="#08080c"/>
<circle cx="178.87" cy="106.6" r="0.7" fill="#08080c"/>
<circle cx="179.97" cy="106.6" r="0.7" fill="#08080c"/>
<circle cx="181.07" cy="106.6" r="0.7" fill="#08080c"/>
<circle cx="182.17" cy="106.6" r="0.7" fill="#08080c"/>
<circle cx="183.27" cy="106.6" r="0.7" fill="#08080c"/>
<circle cx="184.37" cy="106.6" r="0.7" fill="#08080c"/>
<circle cx="185.47" cy="106.6" r="0.7" fill="#08080c"/>
<circle cx="177.22" cy="107.7" r="0.7" fill="#08080c"/>
<circle cx="178.32" cy="107.7" r="0.7" fill="#08080c"/>
<circle cx="179.42" cy="107.7" r="0.7" fill="#08080c"/>
<circle cx="180.52" cy="107.7" r="0.7" fill="#08080c"/>
<circle cx="181.62" cy="107.7" r="0.7" fill="#08080c"/>
<circle cx="182.72" cy="107.7" r="0.7" fill="#08080c"/>
<circle cx="183.82" cy="107.7" r="0.7" fill="#08080c"/>
<circle cx="184.92" cy="107.7" r="0.7" fill="#08080c"/>
<circle cx="176.67" cy="108.8" r="0.7" fill="#08080c"/>
<circle cx="177.77" cy="108.8" r="0.7" fill="#08080c"/>
<circle cx="178.87" cy="108.8" r="0.7" fill="#08080c"/>
<circle cx="179.97" cy="108.8" r="0.7" fill="#08080c"/>
<circle cx="181.07" cy="108.8" r="0.7" fill="#08080c"/>
<circle cx="182.17" cy="108.8" r="0.7" fill="#08080c"/>
<circle cx="183.27" cy="108.8" r="0.7" fill="#08080c"/>
<circle cx="184.37" cy="108.8" r="0.7" fill="#08080c"/>
<circle cx="185.47" cy="108.8" r="0.7" fill="#08080c"/>
<circle cx="176.12" cy="109.9" r="0.7" fill="#08080c"/>
<circle cx="177.22" cy="109.9" r="0.7" fill="#08080c"/>
<circle cx="178.32" cy="109.9" r="0.7" fill="#08080c"/>
<circle cx="179.42" cy="109.9" r="0.7" fill="#08080c"/>
<circle cx="180.52" cy="109.9" r="0.7" fill="#08080c"/>
<circle cx="181.62" cy="109.9" r="0.7" fill="#08080c"/>
<circle cx="182.72" cy="109.9" r="0.7" fill="#08080c"/>
<circle cx="183.82" cy="109.9" r="0.7" fill="#08080c"/>
<circle cx="184.92" cy="109.9" r="0.7" fill="#08080c"/>
<circle cx="186.02" cy="109.9" r="0.7" fill="#08080c"/>
<circle cx="176.67" cy="111" r="0.7" fill="#08080c"/>
<circle cx="177.77" cy="111" r="0.7" fill="#08080c"/>
<circle cx="178.87" cy="111" r="0.7" fill="#08080c"/>
<circle cx="179.97" cy="111" r="0.7" fill="#08080c"/>
<circle cx="181.07" cy="111" r="0.7" fill="#08080c"/>
<circle cx="182.17" cy="111" r="0.7" fill="#08080c"/>
<circle cx="183.27" cy="111" r="0.7" fill="#08080c"/>
<circle cx="184.37" cy="111" r="0.7" fill="#08080c"/>
<circle cx="185.47" cy="111" r="0.7" fill="#08080c"/>
<circle cx="177.22" cy="112.1" r="0.7" fill="#08080c"/>
<circle cx="178.32" cy="112.1" r="0.7" fill="#08080c"/>
<circle cx="179.42" cy="112.1" r="0.7" fill="#08080c"/>
<circle cx="180.52" cy="112.1" r="0.7" fill="#08080c"/>
<circle cx="181.62" cy="112.1" r="0.7" fill="#08080c"/>
<circle cx="182.72" cy="112.1" r="0.7" fill="#08080c"/>
<circle cx="183.82" cy="112.1" r="0.7" fill="#08080c"/>
<circle cx="184.92" cy="112.1" r="0.7" fill="#08080c"/>
<circle cx="177.77" cy="113.2" r="0.7" fill="#08080c"/>
<circle cx="178.87" cy="113.2" r="0.7" fill="#08080c"/>
<circle cx="179.97" cy="113.2" r="0.7" fill="#08080c"/>
<circle cx="181.07" cy="113.2" r="0.7" fill="#08080c"/>
<circle cx="182.17" cy="113.2" r="0.7" fill="#08080c"/>
<circle cx="183.27" cy="113.2" r="0.7" fill="#08080c"/>
<circle cx="184.37" cy="113.2" r="0.7" fill="#08080c"/>
<circle cx="178.32" cy="114.3" r="0.7" fill="#08080c"/>
<circle cx="179.42" cy="114.3" r="0.7" fill="#08080c"/>
<circle cx="180.52" cy="114.3" r="0.7" fill="#08080c"/>
<circle cx="181.62" cy="114.3" r="0.7" fill="#08080c"/>
<circle cx="182.72" cy="114.3" r="0.7" fill="#08080c"/>
<circle cx="183.82" cy="114.3" r="0.7" fill="#08080c"/>
<circle cx="178.87" cy="115.4" r="0.7" fill="#08080c"/>
<circle cx="179.97" cy="115.4" r="0.7" fill="#08080c"/>
<circle cx="181.07" cy="115.4" r="0.7" fill="#08080c"/>
<circle cx="182.17" cy="115.4" r="0.7" fill="#08080c"/>
<circle cx="183.27" cy="115.4" r="0.7" fill="#08080c"/>
<circle cx="180.52" cy="116.5" r="0.7" fill="#08080c"/>
<circle cx="181.62" cy="116.5" r="0.7" fill="#08080c"/>
<circle cx="179.97" cy="117.6" r="0.7" fill="#08080c"/>
<circle cx="181.07" cy="117.6" r="0.7" fill="#08080c"/>
<circle cx="182.17" cy="117.6" r="0.7" fill="#08080c"/>
<circle cx="181.07" cy="118.7" r="0.7" fill="#08080c"/>
<circle cx="181.07" cy="119.8" r="0.7" fill="#08080c"/>
<circle cx="181.07" cy="90.1" r="0.62" fill="#505058"/>
<circle cx="181.07" cy="92.5" r="0.62" fill="#505058"/>
<circle cx="181.07" cy="95" r="0.62" fill="#505058"/>
<circle cx="181.07" cy="97.5" r="0.62" fill="#505058"/>
<polygon points="192.75,107.6 192.2,108.5 191.7,110 191.7,115 192.45,116.5 192.75,117.8 193.15,117.8 193.45,116.5 194.2,115 194.2,110 193.7,108.5 193.15,107.6" fill="#08080c"/>
<circle cx="192.95" cy="107.6" r="0.7" fill="#08080c"/>
<circle cx="192.4" cy="108.7" r="0.7" fill="#08080c"/>
<circle cx="193.5" cy="108.7" r="0.7" fill="#08080c"/>
<circle cx="190.75" cy="109.8" r="0.7" fill="#08080c"/>
<circle cx="191.85" cy="109.8" r="0.7" fill="#08080c"/>
<circle cx="192.95" cy="109.8" r="0.7" fill="#08080c"/>
<circle cx="194.05" cy="109.8" r="0.7" fill="#08080c"/>
<circle cx="195.15" cy="109.8" r="0.7" fill="#08080c"/>
<circle cx="191.3" cy="110.9" r="0.7" fill="#08080c"/>
<circle cx="192.4" cy="110.9" r="0.7" fill="#08080c"/>
<circle cx="193.5" cy="110.9" r="0.7" fill="#08080c"/>
<circle cx="194.6" cy="110.9" r="0.7" fill="#08080c"/>
<circle cx="190.75" cy="112" r="0.7" fill="#08080c"/>
<circle cx="191.85" cy="112" r="0.7" fill="#08080c"/>
<circle cx="192.95" cy="112" r="0.7" fill="#08080c"/>
<circle cx="194.05" cy="112" r="0.7" fill="#08080c"/>
<circle cx="195.15" cy="112" r="0.7" fill="#08080c"/>
<circle cx="191.3" cy="113.1" r="0.7" fill="#08080c"/>
<circle cx="192.4" cy="113.1" r="0.7" fill="#08080c"/>
<circle cx="193.5" cy="113.1" r="0.7" fill="#08080c"/>
<circle cx="194.6" cy="113.1" r="0.7" fill="#08080c"/>
<circle cx="190.75" cy="114.2" r="0.7" fill="#08080c"/>
<circle cx="191.85" cy="114.2" r="0.7" fill="#08080c"/>
<circle cx="192.95" cy="114.2" r="0.7" fill="#08080c"/>
<circle cx="194.05" cy="114.2" r="0.7" fill="#08080c"/>
<circle cx="195.15" cy="114.2" r="0.7" fill="#08080c"/>
<circle cx="191.3" cy="115.3" r="0.7" fill="#08080c"/>
<circle cx="192.4" cy="115.3" r="0.7" fill="#08080c"/>
<circle cx="193.5" cy="115.3" r="0.7" fill="#08080c"/>
<circle cx="194.6" cy="115.3" r="0.7" fill="#08080c"/>
<circle cx="191.85" cy="116.4" r="0.7" fill="#08080c"/>
<circle cx="192.95" cy="116.4" r="0.7" fill="#08080c"/>
<circle cx="194.05" cy="116.4" r="0.7" fill="#08080c"/>
<circle cx="192.95" cy="117.5" r="0.7" fill="#08080c"/>
<circle cx="192.95" cy="97.3" r="0.62" fill="#505058"/>
<circle cx="192.95" cy="100" r="0.62" fill="#505058"/>
<circle cx="192.95" cy="102.5" r="0.62" fill="#505058"/>
<circle cx="192.95" cy="105" r="0.62" fill="#505058"/>
<circle cx="192.95" cy="120.4" r="0.62" fill="#505058"/>
<polygon points="204.58,101.9 204.08,103 204.08,105.5 203.33,106.5 203.58,107.5 202.83,109 202.83,116 204.08,117.5 204.63,121.4 205.03,121.4 205.58,117.5 206.83,116 206.83,109 206.08,107.5 206.33,106.5 205.58,105.5 205.58,103 205.08,101.9" fill="#08080c"/>
<circle cx="204.83" cy="101.9" r="0.7" fill="#08080c"/>
<circle cx="204.28" cy="103" r="0.7" fill="#08080c"/>
<circle cx="205.38" cy="103" r="0.7" fill="#08080c"/>
<circle cx="203.73" cy="104.1" r="0.7" fill="#08080c"/>
<circle cx="204.83" cy="104.1" r="0.7" fill="#08080c"/>
<circle cx="205.93" cy="104.1" r="0.7" fill="#08080c"/>
<circle cx="204.28" cy="105.2" r="0.7" fill="#08080c"/>
<circle cx="205.38" cy="105.2" r="0.7" fill="#08080c"/>
<circle cx="202.63" cy="106.3" r="0.7" fill="#08080c"/>
<circle cx="203.73" cy="106.3" r="0.7" fill="#08080c"/>
<circle cx="204.83" cy="106.3" r="0.7" fill="#08080c"/>
<circle cx="205.93" cy="106.3" r="0.7" fill="#08080c"/>
<circle cx="207.03" cy="106.3" r="0.7" fill="#08080c"/>
<circle cx="203.18" cy="107.4" r="0.7" fill="#08080c"/>
<circle cx="204.28" cy="107.4" r="0.7" fill="#08080c"/>
<circle cx="205.38" cy="107.4" r="0.7" fill="#08080c"/>
<circle cx="206.48" cy="107.4" r="0.7" fill="#08080c"/>
<circle cx="201.53" cy="108.5" r="0.7" fill="#08080c"/>
<circle cx="202.63" cy="108.5" r="0.7" fill="#08080c"/>
<circle cx="203.73" cy="108.5" r="0.7" fill="#08080c"/>
<circle cx="204.83" cy="108.5" r="0.7" fill="#08080c"/>
<circle cx="205.93" cy="108.5" r="0.7" fill="#08080c"/>
<circle cx="207.03" cy="108.5" r="0.7" fill="#08080c"/>
<circle cx="208.13" cy="108.5" r="0.7" fill="#08080c"/>
<circle cx="200.98" cy="109.6" r="0.7" fill="#08080c"/>
<circle cx="202.08" cy="109.6" r="0.7" fill="#08080c"/>
<circle cx="203.18" cy="109.6" r="0.7" fill="#08080c"/>
<circle cx="204.28" cy="109.6" r="0.7" fill="#08080c"/>
<circle cx="205.38" cy="109.6" r="0.7" fill="#08080c"/>
<circle cx="206.48" cy="109.6" r="0.7" fill="#08080c"/>
<circle cx="207.58" cy="109.6" r="0.7" fill="#08080c"/>
<circle cx="208.68" cy="109.6" r="0.7" fill="#08080c"/>
<circle cx="201.53" cy="110.7" r="0.7" fill="#08080c"/>
<circle cx="202.63" cy="110.7" r="0.7" fill="#08080c"/>
<circle cx="203.73" cy="110.7" r="0.7" fill="#08080c"/>
<circle cx="204.83" cy="110.7" r="0.7" fill="#08080c"/>
<circle cx="205.93" cy="110.7" r="0.7" fill="#08080c"/>
<circle cx="207.03" cy="110.7" r="0.7" fill="#08080c"/>
<circle cx="208.13" cy="110.7" r="0.7" fill="#08080c"/>
<circle cx="202.08" cy="111.8" r="0.7" fill="#08080c"/>
<circle cx="203.18" cy="111.8" r="0.7" fill="#08080c"/>
<circle cx="204.28" cy="111.8" r="0.7" fill="#08080c"/>
<circle cx="205.38" cy="111.8" r="0.7" fill="#08080c"/>
<circle cx="206.48" cy="111.8" r="0.7" fill="#08080c"/>
<circle cx="207.58" cy="111.8" r="0.7" fill="#08080c"/>
<circle cx="201.53" cy="112.9" r="0.7" fill="#08080c"/>
<circle cx="202.63" cy="112.9" r="0.7" fill="#08080c"/>
<circle cx="203.73" cy="112.9" r="0.7" fill="#08080c"/>
<circle cx="204.83" cy="112.9" r="0.7" fill="#08080c"/>
<circle cx="205.93" cy="112.9" r="0.7" fill="#08080c"/>
<circle cx="207.03" cy="112.9" r="0.7" fill="#08080c"/>
<circle cx="208.13" cy="112.9" r="0.7" fill="#08080c"/>
<circle cx="200.98" cy="114" r="0.7" fill="#08080c"/>
<circle cx="202.08" cy="114" r="0.7" fill="#08080c"/>
<circle cx="203.18" cy="114" r="0.7" fill="#08080c"/>
<circle cx="204.28" cy="114" r="0.7" fill="#08080c"/>
<circle cx="205.38" cy="114" r="0.7" fill="#08080c"/>
<circle cx="206.48" cy="114" r="0.7" fill="#08080c"/>
<circle cx="207.58" cy="114" r="0.7" fill="#08080c"/>
<circle cx="208.68" cy="114" r="0.7" fill="#08080c"/>
<circle cx="200.43" cy="115.1" r="0.7" fill="#08080c"/>
<circle cx="201.53" cy="115.1" r="0.7" fill="#08080c"/>
<circle cx="202.63" cy="115.1" r="0.7" fill="#08080c"/>
<circle cx="203.73" cy="115.1" r="0.7" fill="#08080c"/>
<circle cx="204.83" cy="115.1" r="0.7" fill="#08080c"/>
<circle cx="205.93" cy="115.1" r="0.7" fill="#08080c"/>
<circle cx="207.03" cy="115.1" r="0.7" fill="#08080c"/>
<circle cx="208.13" cy="115.1" r="0.7" fill="#08080c"/>
<circle cx="209.23" cy="115.1" r="0.7" fill="#08080c"/>
<circle cx="202.08" cy="116.2" r="0.7" fill="#08080c"/>
<circle cx="203.18" cy="116.2" r="0.7" fill="#08080c"/>
<circle cx="204.28" cy="116.2" r="0.7" fill="#08080c"/>
<circle cx="205.38" cy="116.2" r="0.7" fill="#08080c"/>
<circle cx="206.48" cy="116.2" r="0.7" fill="#08080c"/>
<circle cx="207.58" cy="116.2" r="0.7" fill="#08080c"/>
<circle cx="203.73" cy="117.3" r="0.7" fill="#08080c"/>
<circle cx="204.83" cy="117.3" r="0.7" fill="#08080c"/>
<circle cx="205.93" cy="117.3" r="0.7" fill="#08080c"/>
<circle cx="204.28" cy="118.4" r="0.7" fill="#08080c"/>
<circle cx="205.38" cy="118.4" r="0.7" fill="#08080c"/>
<circle cx="203.73" cy="119.5" r="0.7" fill="#08080c"/>
<circle cx="204.83" cy="119.5" r="0.7" fill="#08080c"/>
<circle cx="205.93" cy="119.5" r="0.7" fill="#08080c"/>
<circle cx="204.83" cy="120.6" r="0.7" fill="#08080c"/>
<circle cx="204.83" cy="90.6" r="0.62" fill="#505058"/>
<circle cx="204.83" cy="93" r="0.62" fill="#505058"/>
<circle cx="204.83" cy="96" r="0.62" fill="#505058"/>
<circle cx="204.83" cy="99" r="0.62" fill="#505058"/>
<circle cx="204.83" cy="123" r="0.62" fill="#505058"/>
<circle cx="204.83" cy="124.5" r="0.62" fill="#505058"/>
<polygon points="216.52,102.4 216.12,103.5 216.12,106 215.72,107 215.72,111 216.22,112.5 216.52,114.7 216.92,114.7 217.22,112.5 217.72,111 217.72,107 217.32,106 217.32,103.5 216.92,102.4" fill="#08080c"/>
<circle cx="216.72" cy="102.4" r="0.7" fill="#08080c"/>
<circle cx="216.17" cy="103.5" r="0.7" fill="#08080c"/>
<circle cx="217.27" cy="103.5" r="0.7" fill="#08080c"/>
<circle cx="215.62" cy="104.6" r="0.7" fill="#08080c"/>
<circle cx="216.72" cy="104.6" r="0.7" fill="#08080c"/>
<circle cx="217.82" cy="104.6" r="0.7" fill="#08080c"/>
<circle cx="216.17" cy="105.7" r="0.7" fill="#08080c"/>
<circle cx="217.27" cy="105.7" r="0.7" fill="#08080c"/>
<circle cx="215.62" cy="106.8" r="0.7" fill="#08080c"/>
<circle cx="216.72" cy="106.8" r="0.7" fill="#08080c"/>
<circle cx="217.82" cy="106.8" r="0.7" fill="#08080c"/>
<circle cx="215.07" cy="107.9" r="0.7" fill="#08080c"/>
<circle cx="216.17" cy="107.9" r="0.7" fill="#08080c"/>
<circle cx="217.27" cy="107.9" r="0.7" fill="#08080c"/>
<circle cx="218.37" cy="107.9" r="0.7" fill="#08080c"/>
<circle cx="214.52" cy="109" r="0.7" fill="#08080c"/>
<circle cx="215.62" cy="109" r="0.7" fill="#08080c"/>
<circle cx="216.72" cy="109" r="0.7" fill="#08080c"/>
<circle cx="217.82" cy="109" r="0.7" fill="#08080c"/>
<circle cx="218.92" cy="109" r="0.7" fill="#08080c"/>
<circle cx="215.07" cy="110.1" r="0.7" fill="#08080c"/>
<circle cx="216.17" cy="110.1" r="0.7" fill="#08080c"/>
<circle cx="217.27" cy="110.1" r="0.7" fill="#08080c"/>
<circle cx="218.37" cy="110.1" r="0.7" fill="#08080c"/>
<circle cx="214.52" cy="111.2" r="0.7" fill="#08080c"/>
<circle cx="215.62" cy="111.2" r="0.7" fill="#08080c"/>
<circle cx="216.72" cy="111.2" r="0.7" fill="#08080c"/>
<circle cx="217.82" cy="111.2" r="0.7" fill="#08080c"/>
<circle cx="218.92" cy="111.2" r="0.7" fill="#08080c"/>
<circle cx="216.17" cy="112.3" r="0.7" fill="#08080c"/>
<circle cx="217.27" cy="112.3" r="0.7" fill="#08080c"/>
<circle cx="216.72" cy="113.4" r="0.7" fill="#08080c"/>
<circle cx="216.72" cy="114.5" r="0.7" fill="#08080c"/>
<circle cx="216.72" cy="95.8" r="0.62" fill="#505058"/>
<circle cx="216.72" cy="98" r="0.62" fill="#505058"/>
<circle cx="216.72" cy="100" r="0.62" fill="#505058"/>
<polygon points="228.4,109.1 228,110 228,116 228.4,117.8 228.8,117.8 229.2,116 229.2,110 228.8,109.1" fill="#08080c"/>
<circle cx="228.6" cy="109.1" r="0.7" fill="#08080c"/>
<circle cx="228.05" cy="110.2" r="0.7" fill="#08080c"/>
<circle cx="229.15" cy="110.2" r="0.7" fill="#08080c"/>
<circle cx="227.5" cy="111.3" r="0.7" fill="#08080c"/>
<circle cx="228.6" cy="111.3" r="0.7" fill="#08080c"/>
<circle cx="229.7" cy="111.3" r="0.7" fill="#08080c"/>
<circle cx="228.05" cy="112.4" r="0.7" fill="#08080c"/>
<circle cx="229.15" cy="112.4" r="0.7" fill="#08080c"/>
<circle cx="227.5" cy="113.5" r="0.7" fill="#08080c"/>
<circle cx="228.6" cy="113.5" r="0.7" fill="#08080c"/>
<circle cx="229.7" cy="113.5" r="0.7" fill="#08080c"/>
<circle cx="228.05" cy="114.6" r="0.7" fill="#08080c"/>
<circle cx="229.15" cy="114.6" r="0.7" fill="#08080c"/>
<circle cx="227.5" cy="115.7" r="0.7" fill="#08080c"/>
<circle cx="228.6" cy="115.7" r="0.7" fill="#08080c"/>
<circle cx="229.7" cy="115.7" r="0.7" fill="#08080c"/>
<circle cx="228.6" cy="116.8" r="0.7" fill="#08080c"/>
<circle cx="228.6" cy="105" r="0.62" fill="#505058"/>
<circle cx="228.6" cy="92.2" r="0.8" fill="none" stroke="#999" stroke-width="0.55"/>
<polygon points="240.29,108 239.99,110 239.24,111.5 238.49,113.5 237.84,114.5 237.84,117.5 238.99,118.5 240.19,120.4 240.79,120.4 241.99,118.5 243.14,117.5 243.14,114.5 242.49,113.5 241.74,111.5 240.99,110 240.69,108" fill="#08080c"/>
<circle cx="240.49" cy="108" r="0.7" fill="#08080c"/>
<circle cx="240.49" cy="109.1" r="0.7" fill="#08080c"/>
<circle cx="239.39" cy="110.2" r="0.7" fill="#08080c"/>
<circle cx="240.49" cy="110.2" r="0.7" fill="#08080c"/>
<circle cx="241.59" cy="110.2" r="0.7" fill="#08080c"/>
<circle cx="238.84" cy="111.3" r="0.7" fill="#08080c"/>
<circle cx="239.94" cy="111.3" r="0.7" fill="#08080c"/>
<circle cx="241.04" cy="111.3" r="0.7" fill="#08080c"/>
<circle cx="242.14" cy="111.3" r="0.7" fill="#08080c"/>
<circle cx="237.19" cy="112.4" r="0.7" fill="#08080c"/>
<circle cx="238.29" cy="112.4" r="0.7" fill="#08080c"/>
<circle cx="239.39" cy="112.4" r="0.7" fill="#08080c"/>
<circle cx="240.49" cy="112.4" r="0.7" fill="#08080c"/>
<circle cx="241.59" cy="112.4" r="0.7" fill="#08080c"/>
<circle cx="242.69" cy="112.4" r="0.7" fill="#08080c"/>
<circle cx="243.79" cy="112.4" r="0.7" fill="#08080c"/>
<circle cx="236.64" cy="113.5" r="0.7" fill="#08080c"/>
<circle cx="237.74" cy="113.5" r="0.7" fill="#08080c"/>
<circle cx="238.84" cy="113.5" r="0.7" fill="#08080c"/>
<circle cx="239.94" cy="113.5" r="0.7" fill="#08080c"/>
<circle cx="241.04" cy="113.5" r="0.7" fill="#08080c"/>
<circle cx="242.14" cy="113.5" r="0.7" fill="#08080c"/>
<circle cx="243.24" cy="113.5" r="0.7" fill="#08080c"/>
<circle cx="244.34" cy="113.5" r="0.7" fill="#08080c"/>
<circle cx="234.99" cy="114.6" r="0.7" fill="#08080c"/>
<circle cx="236.09" cy="114.6" r="0.7" fill="#08080c"/>
<circle cx="237.19" cy="114.6" r="0.7" fill="#08080c"/>
<circle cx="238.29" cy="114.6" r="0.7" fill="#08080c"/>
<circle cx="239.39" cy="114.6" r="0.7" fill="#08080c"/>
<circle cx="240.49" cy="114.6" r="0.7" fill="#08080c"/>
<circle cx="241.59" cy="114.6" r="0.7" fill="#08080c"/>
<circle cx="242.69" cy="114.6" r="0.7" fill="#08080c"/>
<circle cx="243.79" cy="114.6" r="0.7" fill="#08080c"/>
<circle cx="244.89" cy="114.6" r="0.7" fill="#08080c"/>
<circle cx="245.99" cy="114.6" r="0.7" fill="#08080c"/>
<circle cx="235.54" cy="115.7" r="0.7" fill="#08080c"/>
<circle cx="236.64" cy="115.7" r="0.7" fill="#08080c"/>
<circle cx="237.74" cy="115.7" r="0.7" fill="#08080c"/>
<circle cx="238.84" cy="115.7" r="0.7" fill="#08080c"/>
<circle cx="239.94" cy="115.7" r="0.7" fill="#08080c"/>
<circle cx="241.04" cy="115.7" r="0.7" fill="#08080c"/>
<circle cx="242.14" cy="115.7" r="0.7" fill="#08080c"/>
<circle cx="243.24" cy="115.7" r="0.7" fill="#08080c"/>
<circle cx="244.34" cy="115.7" r="0.7" fill="#08080c"/>
<circle cx="245.44" cy="115.7" r="0.7" fill="#08080c"/>
<circle cx="236.09" cy="116.8" r="0.7" fill="#08080c"/>
<circle cx="237.19" cy="116.8" r="0.7" fill="#08080c"/>
<circle cx="238.29" cy="116.8" r="0.7" fill="#08080c"/>
<circle cx="239.39" cy="116.8" r="0.7" fill="#08080c"/>
<circle cx="240.49" cy="116.8" r="0.7" fill="#08080c"/>
<circle cx="241.59" cy="116.8" r="0.7" fill="#08080c"/>
<circle cx="242.69" cy="116.8" r="0.7" fill="#08080c"/>
<circle cx="243.79" cy="116.8" r="0.7" fill="#08080c"/>
<circle cx="244.89" cy="116.8" r="0.7" fill="#08080c"/>
<circle cx="236.64" cy="117.9" r="0.7" fill="#08080c"/>
<circle cx="237.74" cy="117.9" r="0.7" fill="#08080c"/>
<circle cx="238.84" cy="117.9" r="0.7" fill="#08080c"/>
<circle cx="239.94" cy="117.9" r="0.7" fill="#08080c"/>
<circle cx="241.04" cy="117.9" r="0.7" fill="#08080c"/>
<circle cx="242.14" cy="117.9" r="0.7" fill="#08080c"/>
<circle cx="243.24" cy="117.9" r="0.7" fill="#08080c"/>
<circle cx="244.34" cy="117.9" r="0.7" fill="#08080c"/>
<circle cx="238.29" cy="119" r="0.7" fill="#08080c"/>
<circle cx="239.39" cy="119" r="0.7" fill="#08080c"/>
<circle cx="240.49" cy="119" r="0.7" fill="#08080c"/>
<circle cx="241.59" cy="119" r="0.7" fill="#08080c"/>
<circle cx="242.69" cy="119" r="0.7" fill="#08080c"/>
<circle cx="240.49" cy="120.1" r="0.7" fill="#08080c"/>
<circle cx="240.49" cy="98.8" r="0.62" fill="#505058"/>
<circle cx="240.49" cy="101" r="0.62" fill="#505058"/>
<circle cx="240.49" cy="103" r="0.62" fill="#505058"/>
<circle cx="240.49" cy="105" r="0.62" fill="#505058"/>
<circle cx="252.37" cy="111.2" r="0.62" fill="#505058"/>
<circle cx="252.37" cy="114.7" r="0.62" fill="#505058"/>
<circle cx="264.25" cy="111.5" r="0.7" fill="#08080c"/>
<circle cx="263.7" cy="112.7" r="0.7" fill="#08080c"/>
<circle cx="264.8" cy="112.7" r="0.7" fill="#08080c"/>
<circle cx="263.15" cy="113.9" r="0.7" fill="#08080c"/>
<circle cx="264.25" cy="113.9" r="0.7" fill="#08080c"/>
<circle cx="265.35" cy="113.9" r="0.7" fill="#08080c"/>
<circle cx="263.7" cy="115.1" r="0.7" fill="#08080c"/>
<circle cx="264.8" cy="115.1" r="0.7" fill="#08080c"/>
<circle cx="263.15" cy="116.3" r="0.7" fill="#08080c"/>
<circle cx="264.25" cy="116.3" r="0.7" fill="#08080c"/>
<circle cx="265.35" cy="116.3" r="0.7" fill="#08080c"/>
<circle cx="264.25" cy="104" r="0.62" fill="#505058"/>
<circle cx="264.25" cy="106" r="0.62" fill="#505058"/>
<circle cx="264.25" cy="108" r="0.62" fill="#505058"/>
<circle cx="264.25" cy="110" r="0.62" fill="#505058"/>
<circle cx="264.25" cy="118.3" r="0.62" fill="#505058"/>
<circle cx="276.14" cy="104" r="0.7" fill="#08080c"/>
<circle cx="275.59" cy="105.6" r="0.7" fill="#08080c"/>
<circle cx="276.69" cy="105.6" r="0.7" fill="#08080c"/>
<circle cx="275.04" cy="107.2" r="0.7" fill="#08080c"/>
<circle cx="276.14" cy="107.2" r="0.7" fill="#08080c"/>
<circle cx="277.24" cy="107.2" r="0.7" fill="#08080c"/>
<circle cx="275.59" cy="108.8" r="0.7" fill="#08080c"/>
<circle cx="276.69" cy="108.8" r="0.7" fill="#08080c"/>
<circle cx="275.04" cy="110.4" r="0.7" fill="#08080c"/>
<circle cx="276.14" cy="110.4" r="0.7" fill="#08080c"/>
<circle cx="277.24" cy="110.4" r="0.7" fill="#08080c"/>
<circle cx="275.59" cy="112" r="0.7" fill="#08080c"/>
<circle cx="276.69" cy="112" r="0.7" fill="#08080c"/>
<circle cx="275.04" cy="113.6" r="0.7" fill="#08080c"/>
<circle cx="276.14" cy="113.6" r="0.7" fill="#08080c"/>
<circle cx="277.24" cy="113.6" r="0.7" fill="#08080c"/>
<circle cx="276.14" cy="115.2" r="0.7" fill="#08080c"/>
<circle cx="276.14" cy="116.8" r="0.7" fill="#08080c"/>
<circle cx="276.14" cy="93.7" r="0.62" fill="#505058"/>
<circle cx="276.14" cy="96" r="0.62" fill="#505058"/>
<circle cx="276.14" cy="98.3" r="0.62" fill="#505058"/>
<circle cx="276.14" cy="101" r="0.62" fill="#505058"/>
<circle cx="276.14" cy="47.8" r="0.8" fill="none" stroke="#999" stroke-width="0.55"/>
<circle cx="276.14" cy="69.7" r="0.8" fill="none" stroke="#999" stroke-width="0.55"/>
<circle cx="276.14" cy="77" r="0.8" fill="none" stroke="#999" stroke-width="0.55"/>
<circle cx="276.14" cy="80" r="0.8" fill="none" stroke="#999" stroke-width="0.55"/>
<circle cx="288.02" cy="110" r="0.7" fill="#08080c"/>
<circle cx="287.47" cy="111.3" r="0.7" fill="#08080c"/>
<circle cx="288.57" cy="111.3" r="0.7" fill="#08080c"/>
<circle cx="286.92" cy="112.6" r="0.7" fill="#08080c"/>
<circle cx="288.02" cy="112.6" r="0.7" fill="#08080c"/>
<circle cx="289.12" cy="112.6" r="0.7" fill="#08080c"/>
<circle cx="287.47" cy="113.9" r="0.7" fill="#08080c"/>
<circle cx="288.57" cy="113.9" r="0.7" fill="#08080c"/>
<circle cx="286.92" cy="115.2" r="0.7" fill="#08080c"/>
<circle cx="288.02" cy="115.2" r="0.7" fill="#08080c"/>
<circle cx="289.12" cy="115.2" r="0.7" fill="#08080c"/>
<circle cx="286.37" cy="116.5" r="0.7" fill="#08080c"/>
<circle cx="287.47" cy="116.5" r="0.7" fill="#08080c"/>
<circle cx="288.57" cy="116.5" r="0.7" fill="#08080c"/>
<circle cx="289.67" cy="116.5" r="0.7" fill="#08080c"/>
<circle cx="286.92" cy="117.8" r="0.7" fill="#08080c"/>
<circle cx="288.02" cy="117.8" r="0.7" fill="#08080c"/>
<circle cx="289.12" cy="117.8" r="0.7" fill="#08080c"/>
<circle cx="288.02" cy="104" r="0.62" fill="#505058"/>
<circle cx="288.02" cy="106" r="0.62" fill="#505058"/>
<circle cx="288.02" cy="108" r="0.62" fill="#505058"/>
<circle cx="299.91" cy="110.5" r="0.7" fill="#08080c"/>
<circle cx="299.36" cy="111.9" r="0.7" fill="#08080c"/>
<circle cx="300.46" cy="111.9" r="0.7" fill="#08080c"/>
<circle cx="298.81" cy="113.3" r="0.7" fill="#08080c"/>
<circle cx="299.91" cy="113.3" r="0.7" fill="#08080c"/>
<circle cx="301.01" cy="113.3" r="0.7" fill="#08080c"/>
<circle cx="299.36" cy="114.7" r="0.7" fill="#08080c"/>
<circle cx="300.46" cy="114.7" r="0.7" fill="#08080c"/>
<circle cx="298.81" cy="116.1" r="0.7" fill="#08080c"/>
<circle cx="299.91" cy="116.1" r="0.7" fill="#08080c"/>
<circle cx="301.01" cy="116.1" r="0.7" fill="#08080c"/>
<circle cx="299.36" cy="117.5" r="0.7" fill="#08080c"/>
<circle cx="300.46" cy="117.5" r="0.7" fill="#08080c"/>
<circle cx="299.91" cy="118.9" r="0.7" fill="#08080c"/>
<circle cx="299.91" cy="103.9" r="0.62" fill="#505058"/>
<circle cx="299.91" cy="106" r="0.62" fill="#505058"/>
<circle cx="299.91" cy="108" r="0.62" fill="#505058"/>
<circle cx="299.91" cy="120.3" r="0.62" fill="#505058"/>
<circle cx="311.79" cy="105" r="0.7" fill="#08080c"/>
<circle cx="311.24" cy="106.3" r="0.7" fill="#08080c"/>
<circle cx="312.34" cy="106.3" r="0.7" fill="#08080c"/>
<circle cx="310.69" cy="107.6" r="0.7" fill="#08080c"/>
<circle cx="311.79" cy="107.6" r="0.7" fill="#08080c"/>
<circle cx="312.89" cy="107.6" r="0.7" fill="#08080c"/>
<circle cx="311.24" cy="108.9" r="0.7" fill="#08080c"/>
<circle cx="312.34" cy="108.9" r="0.7" fill="#08080c"/>
<circle cx="309.59" cy="110.2" r="0.7" fill="#08080c"/>
<circle cx="310.69" cy="110.2" r="0.7" fill="#08080c"/>
<circle cx="311.79" cy="110.2" r="0.7" fill="#08080c"/>
<circle cx="312.89" cy="110.2" r="0.7" fill="#08080c"/>
<circle cx="313.99" cy="110.2" r="0.7" fill="#08080c"/>
<circle cx="310.14" cy="111.5" r="0.7" fill="#08080c"/>
<circle cx="311.24" cy="111.5" r="0.7" fill="#08080c"/>
<circle cx="312.34" cy="111.5" r="0.7" fill="#08080c"/>
<circle cx="313.44" cy="111.5" r="0.7" fill="#08080c"/>
<circle cx="310.69" cy="112.8" r="0.7" fill="#08080c"/>
<circle cx="311.79" cy="112.8" r="0.7" fill="#08080c"/>
<circle cx="312.89" cy="112.8" r="0.7" fill="#08080c"/>
<circle cx="311.24" cy="114.1" r="0.7" fill="#08080c"/>
<circle cx="312.34" cy="114.1" r="0.7" fill="#08080c"/>
<circle cx="310.69" cy="115.4" r="0.7" fill="#08080c"/>
<circle cx="311.79" cy="115.4" r="0.7" fill="#08080c"/>
<circle cx="312.89" cy="115.4" r="0.7" fill="#08080c"/>
<circle cx="311.79" cy="116.7" r="0.7" fill="#08080c"/>
<circle cx="311.79" cy="118" r="0.7" fill="#08080c"/>
<circle cx="311.79" cy="92.7" r="0.62" fill="#505058"/>
<circle cx="311.79" cy="97" r="0.62" fill="#505058"/>
<circle cx="311.79" cy="100" r="0.62" fill="#505058"/>
<circle cx="311.79" cy="102.5" r="0.62" fill="#505058"/>
<circle cx="311.79" cy="82" r="0.8" fill="none" stroke="#999" stroke-width="0.55"/>
<circle cx="323.67" cy="104.5" r="0.7" fill="#08080c"/>
<circle cx="323.12" cy="105.75" r="0.7" fill="#08080c"/>
<circle cx="324.22" cy="105.75" r="0.7" fill="#08080c"/>
<circle cx="322.57" cy="107" r="0.7" fill="#08080c"/>
<circle cx="323.67" cy="107" r="0.7" fill="#08080c"/>
<circle cx="324.77" cy="107" r="0.7" fill="#08080c"/>
<circle cx="322.02" cy="108.25" r="0.7" fill="#08080c"/>
<circle cx="323.12" cy="108.25" r="0.7" fill="#08080c"/>
<circle cx="324.22" cy="108.25" r="0.7" fill="#08080c"/>
<circle cx="325.32" cy="108.25" r="0.7" fill="#08080c"/>
<circle cx="322.57" cy="109.5" r="0.7" fill="#08080c"/>
<circle cx="323.67" cy="109.5" r="0.7" fill="#08080c"/>
<circle cx="324.77" cy="109.5" r="0.7" fill="#08080c"/>
<circle cx="322.02" cy="110.75" r="0.7" fill="#08080c"/>
<circle cx="323.12" cy="110.75" r="0.7" fill="#08080c"/>
<circle cx="324.22" cy="110.75" r="0.7" fill="#08080c"/>
<circle cx="325.32" cy="110.75" r="0.7" fill="#08080c"/>
<circle cx="321.47" cy="112" r="0.7" fill="#08080c"/>
<circle cx="322.57" cy="112" r="0.7" fill="#08080c"/>
<circle cx="323.67" cy="112" r="0.7" fill="#08080c"/>
<circle cx="324.77" cy="112" r="0.7" fill="#08080c"/>
<circle cx="325.87" cy="112" r="0.7" fill="#08080c"/>
<circle cx="322.02" cy="113.25" r="0.7" fill="#08080c"/>
<circle cx="323.12" cy="113.25" r="0.7" fill="#08080c"/>
<circle cx="324.22" cy="113.25" r="0.7" fill="#08080c"/>
<circle cx="325.32" cy="113.25" r="0.7" fill="#08080c"/>
<circle cx="321.47" cy="114.5" r="0.7" fill="#08080c"/>
<circle cx="322.57" cy="114.5" r="0.7" fill="#08080c"/>
<circle cx="323.67" cy="114.5" r="0.7" fill="#08080c"/>
<circle cx="324.77" cy="114.5" r="0.7" fill="#08080c"/>
<circle cx="325.87" cy="114.5" r="0.7" fill="#08080c"/>
<circle cx="323.12" cy="115.75" r="0.7" fill="#08080c"/>
<circle cx="324.22" cy="115.75" r="0.7" fill="#08080c"/>
<circle cx="323.67" cy="117" r="0.7" fill="#08080c"/>
<circle cx="323.67" cy="101.9" r="0.62" fill="#505058"/>
<circle cx="335.56" cy="105" r="0.7" fill="#08080c"/>
<circle cx="335.56" cy="106.6" r="0.7" fill="#08080c"/>
<circle cx="334.46" cy="108.2" r="0.7" fill="#08080c"/>
<circle cx="335.56" cy="108.2" r="0.7" fill="#08080c"/>
<circle cx="336.66" cy="108.2" r="0.7" fill="#08080c"/>
<circle cx="335.01" cy="109.8" r="0.7" fill="#08080c"/>
<circle cx="336.11" cy="109.8" r="0.7" fill="#08080c"/>
<circle cx="334.46" cy="111.4" r="0.7" fill="#08080c"/>
<circle cx="335.56" cy="111.4" r="0.7" fill="#08080c"/>
<circle cx="336.66" cy="111.4" r="0.7" fill="#08080c"/>
<circle cx="335.01" cy="113" r="0.7" fill="#08080c"/>
<circle cx="336.11" cy="113" r="0.7" fill="#08080c"/>
<circle cx="334.46" cy="114.6" r="0.7" fill="#08080c"/>
<circle cx="335.56" cy="114.6" r="0.7" fill="#08080c"/>
<circle cx="336.66" cy="114.6" r="0.7" fill="#08080c"/>
<circle cx="335.56" cy="116.2" r="0.7" fill="#08080c"/>
<circle cx="335.56" cy="117.8" r="0.7" fill="#08080c"/>
<circle cx="335.56" cy="103.9" r="0.62" fill="#505058"/>
<line x1="42.4" y1="126" x2="44.4" y2="126" stroke="#999" stroke-width="0.8" />
<text x="42" y="128.7" font-size="6.6" text-anchor="end" fill="#222" color="#222" >0</text>
<line x1="42.4" y1="109.05" x2="44.4" y2="109.05" stroke="#999" stroke-width="0.8" />
<text x="42" y="111.75" font-size="6.6" text-anchor="end" fill="#222" color="#222" >1,000</text>
<line x1="42.4" y1="92.1" x2="44.4" y2="92.1" stroke="#999" stroke-width="0.8" />
<text x="42" y="94.8" font-size="6.6" text-anchor="end" fill="#222" color="#222" >2,000</text>
<line x1="42.4" y1="75.15" x2="44.4" y2="75.15" stroke="#999" stroke-width="0.8" />
<text x="42" y="77.85" font-size="6.6" text-anchor="end" fill="#222" color="#222" >3,000</text>
<line x1="42.4" y1="58.2" x2="44.4" y2="58.2" stroke="#999" stroke-width="0.8" />
<text x="42" y="60.9" font-size="6.6" text-anchor="end" fill="#222" color="#222" >4,000</text>
<line x1="42.4" y1="41.25" x2="44.4" y2="41.25" stroke="#999" stroke-width="0.8" />
<text x="42" y="43.95" font-size="6.6" text-anchor="end" fill="#222" color="#222" >5,000</text>
<line x1="42.4" y1="24.3" x2="44.4" y2="24.3" stroke="#999" stroke-width="0.8" />
<text x="42" y="27" font-size="6.6" text-anchor="end" fill="#222" color="#222" >6,000</text>
<line x1="50.34" y1="126" x2="50.34" y2="127.4" stroke="#999" stroke-width="0.8" />
<line x1="62.23" y1="126" x2="62.23" y2="127.4" stroke="#999" stroke-width="0.8" />
<line x1="74.11" y1="126" x2="74.11" y2="127.4" stroke="#999" stroke-width="0.8" />
<line x1="85.99" y1="126" x2="85.99" y2="127.4" stroke="#999" stroke-width="0.8" />
<line x1="97.88" y1="126" x2="97.88" y2="127.4" stroke="#999" stroke-width="0.8" />
<line x1="109.76" y1="126" x2="109.76" y2="127.4" stroke="#999" stroke-width="0.8" />
<line x1="121.65" y1="126" x2="121.65" y2="127.4" stroke="#999" stroke-width="0.8" />
<line x1="133.53" y1="126" x2="133.53" y2="127.4" stroke="#999" stroke-width="0.8" />
<line x1="145.41" y1="126" x2="145.41" y2="127.4" stroke="#999" stroke-width="0.8" />
<line x1="157.3" y1="126" x2="157.3" y2="127.4" stroke="#999" stroke-width="0.8" />
<line x1="169.18" y1="126" x2="169.18" y2="127.4" stroke="#999" stroke-width="0.8" />
<line x1="181.07" y1="126" x2="181.07" y2="127.4" stroke="#999" stroke-width="0.8" />
<line x1="192.95" y1="126" x2="192.95" y2="127.4" stroke="#999" stroke-width="0.8" />
<line x1="204.83" y1="126" x2="204.83" y2="127.4" stroke="#999" stroke-width="0.8" />
<line x1="216.72" y1="126" x2="216.72" y2="127.4" stroke="#999" stroke-width="0.8" />
<line x1="228.6" y1="126" x2="228.6" y2="127.4" stroke="#999" stroke-width="0.8" />
<line x1="240.49" y1="126" x2="240.49" y2="127.4" stroke="#999" stroke-width="0.8" />
<line x1="252.37" y1="126" x2="252.37" y2="127.4" stroke="#999" stroke-width="0.8" />
<line x1="264.25" y1="126" x2="264.25" y2="127.4" stroke="#999" stroke-width="0.8" />
<line x1="276.14" y1="126" x2="276.14" y2="127.4" stroke="#999" stroke-width="0.8" />
<line x1="288.02" y1="126" x2="288.02" y2="127.4" stroke="#999" stroke-width="0.8" />
<line x1="299.91" y1="126" x2="299.91" y2="127.4" stroke="#999" stroke-width="0.8" />
<line x1="311.79" y1="126" x2="311.79" y2="127.4" stroke="#999" stroke-width="0.8" />
<line x1="323.67" y1="126" x2="323.67" y2="127.4" stroke="#999" stroke-width="0.8" />
<line x1="335.56" y1="126" x2="335.56" y2="127.4" stroke="#999" stroke-width="0.8" />
<text x="47.04" y="132.2" font-size="6.45" font-weight="bold" fill="#111" color="#111" transform="rotate(90 47.04 132.2)" >Neuroblastoma</text>
<text x="58.99" y="132.2" font-size="6.45" font-weight="bold" fill="#111" color="#111" transform="rotate(90 58.99 132.2)" >ALL</text>
<text x="70.94" y="132.2" font-size="6.45" font-weight="bold" fill="#111" color="#111" transform="rotate(90 70.94 132.2)" >Rhabdomyosarcoma</text>
<text x="82.89" y="132.2" font-size="6.45" font-weight="bold" fill="#111" color="#111" transform="rotate(90 82.89 132.2)" >AML</text>
<text x="94.84" y="132.2" font-size="6.45" font-weight="bold" fill="#111" color="#111" transform="rotate(90 94.84 132.2)" >Glioma</text>
<text x="106.79" y="132.2" font-size="6.45" font-weight="bold" fill="#111" color="#111" transform="rotate(90 106.79 132.2)" >Medulloblastoma</text>
<text x="118.74" y="132.2" font-size="6.45" font-weight="bold" fill="#111" color="#111" transform="rotate(90 118.74 132.2)" >Ovarian</text>
<text x="130.69" y="132.2" font-size="6.45" font-weight="bold" fill="#111" color="#111" transform="rotate(90 130.69 132.2)" >Other pediatric tumors</text>
<text x="142.63" y="132.2" font-size="6.45" font-weight="bold" fill="#111" color="#111" transform="rotate(90 142.63 132.2)" >Breast</text>
<text x="154.58" y="132.2" font-size="6.45" font-weight="bold" fill="#111" color="#111" transform="rotate(90 154.58 132.2)" >Colon</text>
<text x="166.53" y="132.2" font-size="6.45" font-weight="bold" fill="#111" color="#111" transform="rotate(90 166.53 132.2)" >Endometrial</text>
<text x="178.48" y="132.2" font-size="6.45" font-weight="bold" fill="#111" color="#111" transform="rotate(90 178.48 132.2)" >Kidney</text>
<text x="190.43" y="132.2" font-size="6.45" font-weight="bold" fill="#111" color="#111" transform="rotate(90 190.43 132.2)" >Lung</text>
<text x="202.38" y="132.2" font-size="6.45" font-weight="bold" fill="#111" color="#111" transform="rotate(90 202.38 132.2)" >Various other</text>
<text x="214.33" y="132.2" font-size="6.45" font-weight="bold" fill="#111" color="#111" transform="rotate(90 214.33 132.2)" >Prostate</text>
<text x="226.28" y="132.2" font-size="6.45" font-weight="bold" fill="#111" color="#111" transform="rotate(90 226.28 132.2)" >Thyroid</text>
<text x="238.23" y="132.2" font-size="6.45" font-weight="bold" fill="#111" color="#111" transform="rotate(90 238.23 132.2)" >Brain</text>
<text x="250.17" y="132.2" font-size="6.45" font-weight="bold" fill="#111" color="#111" transform="rotate(90 250.17 132.2)" >Breast</text>
<text x="262.12" y="132.2" font-size="6.45" font-weight="bold" fill="#111" color="#111" transform="rotate(90 262.12 132.2)" >Digestive tract</text>
<text x="274.07" y="132.2" font-size="6.45" font-weight="bold" fill="#111" color="#111" transform="rotate(90 274.07 132.2)" >Muscle</text>
<text x="286.02" y="132.2" font-size="6.45" font-weight="bold" fill="#111" color="#111" transform="rotate(90 286.02 132.2)" >Nervous</text>
<text x="297.97" y="132.2" font-size="6.45" font-weight="bold" fill="#111" color="#111" transform="rotate(90 297.97 132.2)" >Connective</text>
<text x="309.92" y="132.2" font-size="6.45" font-weight="bold" fill="#111" color="#111" transform="rotate(90 309.92 132.2)" >Other</text>
<text x="321.87" y="132.2" font-size="6.45" font-weight="bold" fill="#111" color="#111" transform="rotate(90 321.87 132.2)" >Female reproductive</text>
<text x="333.82" y="132.2" font-size="6.45" font-weight="bold" fill="#111" color="#111" transform="rotate(90 333.82 132.2)" >Male reproductive</text>
<text x="21.3" y="95.5" font-size="7.5" font-weight="bold" fill="#111" color="#111" transform="rotate(-90 21.3 95.5)" >Expression</text>
<text x="13" y="24.7" font-size="12.3" font-weight="bold" fill="#000" color="#000" >A</text>
<rect x="381.6" y="56.9" width="14.57" height="49.7" fill="#e03c3c" fill-opacity="0.32"/>
<line x1="381.6" y1="80.1" x2="396.18" y2="80.1" stroke="#9090b0" stroke-width="0.7" />
<line x1="381.6" y1="56.9" x2="396.18" y2="56.9" stroke="#a0a0bc" stroke-width="0.7" />
<line x1="381.6" y1="106.6" x2="396.18" y2="106.6" stroke="#a0a0bc" stroke-width="0.7" />
<rect x="397.18" y="89" width="14.57" height="26.6" fill="#4646c8" fill-opacity="0.22"/>
<line x1="397.18" y1="100.6" x2="411.75" y2="100.6" stroke="#9090b0" stroke-width="0.7" />
<line x1="397.18" y1="89" x2="411.75" y2="89" stroke="#a0a0bc" stroke-width="0.7" />
<line x1="397.18" y1="115.6" x2="411.75" y2="115.6" stroke="#a0a0bc" stroke-width="0.7" />
<rect x="412.75" y="95.1" width="14.57" height="14.9" fill="#4646c8" fill-opacity="0.22"/>
<line x1="412.75" y1="100.6" x2="427.32" y2="100.6" stroke="#9090b0" stroke-width="0.7" />
<line x1="412.75" y1="95.1" x2="427.32" y2="95.1" stroke="#a0a0bc" stroke-width="0.7" />
<line x1="412.75" y1="110" x2="427.32" y2="110" stroke="#a0a0bc" stroke-width="0.7" />
<rect x="428.33" y="128.2" width="14.57" height="7.1" fill="#4646c8" fill-opacity="0.22"/>
<line x1="428.33" y1="132" x2="442.9" y2="132" stroke="#9090b0" stroke-width="0.7" />
<line x1="428.33" y1="128.2" x2="442.9" y2="128.2" stroke="#a0a0bc" stroke-width="0.7" />
<line x1="428.33" y1="135.3" x2="442.9" y2="135.3" stroke="#a0a0bc" stroke-width="0.7" />
<rect x="443.9" y="81.8" width="14.57" height="17.9" fill="#4646c8" fill-opacity="0.22"/>
<line x1="443.9" y1="90.4" x2="458.48" y2="90.4" stroke="#9090b0" stroke-width="0.7" />
<line x1="443.9" y1="81.8" x2="458.48" y2="81.8" stroke="#a0a0bc" stroke-width="0.7" />
<line x1="443.9" y1="99.7" x2="458.48" y2="99.7" stroke="#a0a0bc" stroke-width="0.7" />
<rect x="459.48" y="113.9" width="14.57" height="9.7" fill="#4646c8" fill-opacity="0.22"/>
<line x1="459.48" y1="118.5" x2="474.05" y2="118.5" stroke="#9090b0" stroke-width="0.7" />
<line x1="459.48" y1="113.9" x2="474.05" y2="113.9" stroke="#a0a0bc" stroke-width="0.7" />
<line x1="459.48" y1="123.6" x2="474.05" y2="123.6" stroke="#a0a0bc" stroke-width="0.7" />
<rect x="475.05" y="91.2" width="14.57" height="18" fill="#4646c8" fill-opacity="0.22"/>
<line x1="475.05" y1="99.8" x2="489.62" y2="99.8" stroke="#9090b0" stroke-width="0.7" />
<line x1="475.05" y1="91.2" x2="489.62" y2="91.2" stroke="#a0a0bc" stroke-width="0.7" />
<line x1="475.05" y1="109.2" x2="489.62" y2="109.2" stroke="#a0a0bc" stroke-width="0.7" />
<rect x="490.62" y="103.9" width="14.57" height="12.8" fill="#4646c8" fill-opacity="0.22"/>
<line x1="490.62" y1="110.5" x2="505.2" y2="110.5" stroke="#9090b0" stroke-width="0.7" />
<line x1="490.62" y1="103.9" x2="505.2" y2="103.9" stroke="#a0a0bc" stroke-width="0.7" />
<line x1="490.62" y1="116.7" x2="505.2" y2="116.7" stroke="#a0a0bc" stroke-width="0.7" />
<line x1="381.6" y1="30" x2="396.18" y2="30" stroke="#c0c0c8" stroke-width="0.8" />
<line x1="381.6" y1="123.5" x2="396.18" y2="123.5" stroke="#c0c0c8" stroke-width="0.8" />
<line x1="397.18" y1="49.6" x2="411.75" y2="49.6" stroke="#c0c0c8" stroke-width="0.8" />
<line x1="397.18" y1="135.1" x2="411.75" y2="135.1" stroke="#c0c0c8" stroke-width="0.8" />
<line x1="412.75" y1="74.5" x2="427.32" y2="74.5" stroke="#c0c0c8" stroke-width="0.8" />
<line x1="412.75" y1="117.7" x2="427.32" y2="117.7" stroke="#c0c0c8" stroke-width="0.8" />
<line x1="428.33" y1="119" x2="442.9" y2="119" stroke="#c0c0c8" stroke-width="0.8" />
<line x1="443.9" y1="59.2" x2="458.48" y2="59.2" stroke="#c0c0c8" stroke-width="0.8" />
<line x1="443.9" y1="116" x2="458.48" y2="116" stroke="#c0c0c8" stroke-width="0.8" />
<line x1="459.48" y1="100.3" x2="474.05" y2="100.3" stroke="#c0c0c8" stroke-width="0.8" />
<line x1="459.48" y1="130" x2="474.05" y2="130" stroke="#c0c0c8" stroke-width="0.8" />
<line x1="475.05" y1="76.4" x2="489.62" y2="76.4" stroke="#c0c0c8" stroke-width="0.8" />
<line x1="475.05" y1="127.1" x2="489.62" y2="127.1" stroke="#c0c0c8" stroke-width="0.8" />
<line x1="490.62" y1="83.5" x2="505.2" y2="83.5" stroke="#c0c0c8" stroke-width="0.8" />
<line x1="490.62" y1="130.6" x2="505.2" y2="130.6" stroke="#c0c0c8" stroke-width="0.8" />
<line x1="381.1" y1="26.4" x2="381.1" y2="138.8" stroke="#c4c4c4" stroke-width="1" />
<line x1="396.68" y1="26.4" x2="396.68" y2="138.8" stroke="#c4c4c4" stroke-width="1" />
<line x1="412.25" y1="26.4" x2="412.25" y2="138.8" stroke="#c4c4c4" stroke-width="1" />
<line x1="427.83" y1="26.4" x2="427.83" y2="138.8" stroke="#c4c4c4" stroke-width="1" />
<line x1="443.4" y1="26.4" x2="443.4" y2="138.8" stroke="#c4c4c4" stroke-width="1" />
<line x1="458.98" y1="26.4" x2="458.98" y2="138.8" stroke="#c4c4c4" stroke-width="1" />
<line x1="474.55" y1="26.4" x2="474.55" y2="138.8" stroke="#c4c4c4" stroke-width="1" />
<line x1="490.12" y1="26.4" x2="490.12" y2="138.8" stroke="#c4c4c4" stroke-width="1" />
<line x1="505.7" y1="26.4" x2="505.7" y2="138.8" stroke="#c4c4c4" stroke-width="1" />
<line x1="381.1" y1="26.4" x2="505.7" y2="26.4" stroke="#c4c4c4" stroke-width="1" />
<line x1="381.1" y1="138.8" x2="505.7" y2="138.8" stroke="#bbbbbb" stroke-width="1" />
<circle cx="388.89" cy="30" r="0.72" fill="#333340"/>
<circle cx="388.89" cy="43.4" r="0.72" fill="#333340"/>
<circle cx="388.89" cy="47.1" r="0.72" fill="#333340"/>
<circle cx="388.89" cy="54" r="0.72" fill="#333340"/>
<circle cx="388.89" cy="57.3" r="0.72" fill="#333340"/>
<circle cx="388.89" cy="62" r="0.72" fill="#333340"/>
<circle cx="388.89" cy="68.3" r="0.72" fill="#333340"/>
<circle cx="388.89" cy="75.6" r="0.72" fill="#333340"/>
<circle cx="388.89" cy="76.7" r="0.72" fill="#333340"/>
<circle cx="388.89" cy="80" r="0.72" fill="#333340"/>
<circle cx="388.89" cy="82.7" r="0.72" fill="#333340"/>
<circle cx="388.89" cy="84.4" r="0.72" fill="#333340"/>
<circle cx="388.89" cy="88" r="0.72" fill="#333340"/>
<circle cx="388.89" cy="92" r="0.72" fill="#333340"/>
<circle cx="388.89" cy="96" r="0.72" fill="#333340"/>
<circle cx="388.89" cy="100.6" r="0.72" fill="#333340"/>
<circle cx="388.89" cy="104.9" r="0.72" fill="#333340"/>
<circle cx="388.89" cy="111.7" r="0.72" fill="#333340"/>
<circle cx="388.89" cy="118.5" r="0.72" fill="#333340"/>
<circle cx="388.89" cy="121.1" r="0.72" fill="#333340"/>
<circle cx="404.46" cy="59.5" r="0.72" fill="#333340"/>
<circle cx="404.46" cy="66.1" r="0.72" fill="#333340"/>
<circle cx="404.46" cy="69.8" r="0.72" fill="#333340"/>
<circle cx="404.46" cy="73.4" r="0.72" fill="#333340"/>
<circle cx="404.46" cy="81.8" r="0.72" fill="#333340"/>
<circle cx="404.46" cy="84.5" r="0.72" fill="#333340"/>
<circle cx="404.46" cy="87" r="0.72" fill="#333340"/>
<circle cx="404.46" cy="89.5" r="0.72" fill="#333340"/>
<circle cx="404.46" cy="92" r="0.72" fill="#333340"/>
<circle cx="404.46" cy="94.5" r="0.72" fill="#333340"/>
<circle cx="404.46" cy="97" r="0.72" fill="#333340"/>
<circle cx="404.46" cy="99.5" r="0.72" fill="#333340"/>
<circle cx="404.46" cy="102" r="0.72" fill="#333340"/>
<circle cx="404.46" cy="104.5" r="0.72" fill="#333340"/>
<circle cx="404.46" cy="107" r="0.72" fill="#333340"/>
<circle cx="404.46" cy="109.5" r="0.72" fill="#333340"/>
<circle cx="404.46" cy="112" r="0.72" fill="#333340"/>
<circle cx="404.46" cy="115" r="0.72" fill="#333340"/>
<circle cx="404.46" cy="118" r="0.72" fill="#333340"/>
<circle cx="404.46" cy="121" r="0.72" fill="#333340"/>
<circle cx="404.46" cy="125.3" r="0.72" fill="#333340"/>
<circle cx="420.04" cy="45.6" r="0.72" fill="#333340"/>
<circle cx="420.04" cy="56.6" r="0.72" fill="#333340"/>
<circle cx="420.04" cy="64.2" r="0.72" fill="#333340"/>
<circle cx="420.04" cy="86.6" r="0.72" fill="#333340"/>
<circle cx="420.04" cy="96" r="0.72" fill="#333340"/>
<circle cx="420.04" cy="100" r="0.72" fill="#333340"/>
<circle cx="420.04" cy="102" r="0.72" fill="#333340"/>
<circle cx="420.04" cy="106.6" r="0.72" fill="#333340"/>
<circle cx="420.04" cy="110.8" r="0.72" fill="#333340"/>
<polygon points="435.36,122.3 434.51,122.8 434.51,123.6 435.21,124.2 434.71,125.5 434.01,127 433.61,129 433.11,131 433.11,134 433.61,135.5 434.61,136.8 435.36,137.9 435.86,137.9 436.61,136.8 437.61,135.5 438.11,134 438.11,131 437.61,129 437.21,127 436.51,125.5 436.01,124.2 436.71,123.6 436.71,122.8 435.86,122.3" fill="#08080c"/>
<circle cx="435.61" cy="122.3" r="0.7" fill="#08080c"/>
<circle cx="433.96" cy="123.4" r="0.7" fill="#08080c"/>
<circle cx="435.06" cy="123.4" r="0.7" fill="#08080c"/>
<circle cx="436.16" cy="123.4" r="0.7" fill="#08080c"/>
<circle cx="437.26" cy="123.4" r="0.7" fill="#08080c"/>
<circle cx="434.51" cy="124.5" r="0.7" fill="#08080c"/>
<circle cx="435.61" cy="124.5" r="0.7" fill="#08080c"/>
<circle cx="436.71" cy="124.5" r="0.7" fill="#08080c"/>
<circle cx="435.06" cy="125.6" r="0.7" fill="#08080c"/>
<circle cx="436.16" cy="125.6" r="0.7" fill="#08080c"/>
<circle cx="433.41" cy="126.7" r="0.7" fill="#08080c"/>
<circle cx="434.51" cy="126.7" r="0.7" fill="#08080c"/>
<circle cx="435.61" cy="126.7" r="0.7" fill="#08080c"/>
<circle cx="436.71" cy="126.7" r="0.7" fill="#08080c"/>
<circle cx="437.81" cy="126.7" r="0.7" fill="#08080c"/>
<circle cx="432.86" cy="127.8" r="0.7" fill="#08080c"/>
<circle cx="433.96" cy="127.8" r="0.7" fill="#08080c"/>
<circle cx="435.06" cy="127.8" r="0.7" fill="#08080c"/>
<circle cx="436.16" cy="127.8" r="0.7" fill="#08080c"/>
<circle cx="437.26" cy="127.8" r="0.7" fill="#08080c"/>
<circle cx="438.36" cy="127.8" r="0.7" fill="#08080c"/>
<circle cx="432.31" cy="128.9" r="0.7" fill="#08080c"/>
<circle cx="433.41" cy="128.9" r="0.7" fill="#08080c"/>
<circle cx="434.51" cy="128.9" r="0.7" fill="#08080c"/>
<circle cx="435.61" cy="128.9" r="0.7" fill="#08080c"/>
<circle cx="436.71" cy="128.9" r="0.7" fill="#08080c"/>
<circle cx="437.81" cy="128.9" r="0.7" fill="#08080c"/>
<circle cx="438.91" cy="128.9" r="0.7" fill="#08080c"/>
<circle cx="431.76" cy="130" r="0.7" fill="#08080c"/>
<circle cx="432.86" cy="130" r="0.7" fill="#08080c"/>
<circle cx="433.96" cy="130" r="0.7" fill="#08080c"/>
<circle cx="435.06" cy="130" r="0.7" fill="#08080c"/>
<circle cx="436.16" cy="130" r="0.7" fill="#08080c"/>
<circle cx="437.26" cy="130" r="0.7" fill="#08080c"/>
<circle cx="438.36" cy="130" r="0.7" fill="#08080c"/>
<circle cx="439.46" cy="130" r="0.7" fill="#08080c"/>
<circle cx="431.21" cy="131.1" r="0.7" fill="#08080c"/>
<circle cx="432.31" cy="131.1" r="0.7" fill="#08080c"/>
<circle cx="433.41" cy="131.1" r="0.7" fill="#08080c"/>
<circle cx="434.51" cy="131.1" r="0.7" fill="#08080c"/>
<circle cx="435.61" cy="131.1" r="0.7" fill="#08080c"/>
<circle cx="436.71" cy="131.1" r="0.7" fill="#08080c"/>
<circle cx="437.81" cy="131.1" r="0.7" fill="#08080c"/>
<circle cx="438.91" cy="131.1" r="0.7" fill="#08080c"/>
<circle cx="440.01" cy="131.1" r="0.7" fill="#08080c"/>
<circle cx="431.76" cy="132.2" r="0.7" fill="#08080c"/>
<circle cx="432.86" cy="132.2" r="0.7" fill="#08080c"/>
<circle cx="433.96" cy="132.2" r="0.7" fill="#08080c"/>
<circle cx="435.06" cy="132.2" r="0.7" fill="#08080c"/>
<circle cx="436.16" cy="132.2" r="0.7" fill="#08080c"/>
<circle cx="437.26" cy="132.2" r="0.7" fill="#08080c"/>
<circle cx="438.36" cy="132.2" r="0.7" fill="#08080c"/>
<circle cx="439.46" cy="132.2" r="0.7" fill="#08080c"/>
<circle cx="431.21" cy="133.3" r="0.7" fill="#08080c"/>
<circle cx="432.31" cy="133.3" r="0.7" fill="#08080c"/>
<circle cx="433.41" cy="133.3" r="0.7" fill="#08080c"/>
<circle cx="434.51" cy="133.3" r="0.7" fill="#08080c"/>
<circle cx="435.61" cy="133.3" r="0.7" fill="#08080c"/>
<circle cx="436.71" cy="133.3" r="0.7" fill="#08080c"/>
<circle cx="437.81" cy="133.3" r="0.7" fill="#08080c"/>
<circle cx="438.91" cy="133.3" r="0.7" fill="#08080c"/>
<circle cx="440.01" cy="133.3" r="0.7" fill="#08080c"/>
<circle cx="430.66" cy="134.4" r="0.7" fill="#08080c"/>
<circle cx="431.76" cy="134.4" r="0.7" fill="#08080c"/>
<circle cx="432.86" cy="134.4" r="0.7" fill="#08080c"/>
<circle cx="433.96" cy="134.4" r="0.7" fill="#08080c"/>
<circle cx="435.06" cy="134.4" r="0.7" fill="#08080c"/>
<circle cx="436.16" cy="134.4" r="0.7" fill="#08080c"/>
<circle cx="437.26" cy="134.4" r="0.7" fill="#08080c"/>
<circle cx="438.36" cy="134.4" r="0.7" fill="#08080c"/>
<circle cx="439.46" cy="134.4" r="0.7" fill="#08080c"/>
<circle cx="440.56" cy="134.4" r="0.7" fill="#08080c"/>
<circle cx="431.21" cy="135.5" r="0.7" fill="#08080c"/>
<circle cx="432.31" cy="135.5" r="0.7" fill="#08080c"/>
<circle cx="433.41" cy="135.5" r="0.7" fill="#08080c"/>
<circle cx="434.51" cy="135.5" r="0.7" fill="#08080c"/>
<circle cx="435.61" cy="135.5" r="0.7" fill="#08080c"/>
<circle cx="436.71" cy="135.5" r="0.7" fill="#08080c"/>
<circle cx="437.81" cy="135.5" r="0.7" fill="#08080c"/>
<circle cx="438.91" cy="135.5" r="0.7" fill="#08080c"/>
<circle cx="440.01" cy="135.5" r="0.7" fill="#08080c"/>
<circle cx="433.96" cy="136.6" r="0.7" fill="#08080c"/>
<circle cx="435.06" cy="136.6" r="0.7" fill="#08080c"/>
<circle cx="436.16" cy="136.6" r="0.7" fill="#08080c"/>
<circle cx="437.26" cy="136.6" r="0.7" fill="#08080c"/>
<circle cx="435.61" cy="137.7" r="0.7" fill="#08080c"/>
<circle cx="435.61" cy="111.1" r="0.72" fill="#333340"/>
<circle cx="435.61" cy="113.4" r="0.72" fill="#333340"/>
<circle cx="435.61" cy="118.2" r="0.72" fill="#333340"/>
<circle cx="435.61" cy="108.9" r="0.8" fill="none" stroke="#999" stroke-width="0.55"/>
<circle cx="451.19" cy="36.4" r="0.72" fill="#333340"/>
<circle cx="451.19" cy="66.6" r="0.72" fill="#333340"/>
<circle cx="451.19" cy="70.5" r="0.72" fill="#333340"/>
<circle cx="451.19" cy="77.6" r="0.72" fill="#333340"/>
<circle cx="451.19" cy="82.7" r="0.72" fill="#333340"/>
<circle cx="451.19" cy="85" r="0.72" fill="#333340"/>
<circle cx="451.19" cy="87" r="0.72" fill="#333340"/>
<circle cx="451.19" cy="89" r="0.72" fill="#333340"/>
<circle cx="451.19" cy="91.2" r="0.72" fill="#333340"/>
<circle cx="451.19" cy="93" r="0.72" fill="#333340"/>
<circle cx="451.19" cy="95.5" r="0.72" fill="#333340"/>
<circle cx="451.19" cy="98" r="0.72" fill="#333340"/>
<circle cx="451.19" cy="103.2" r="0.72" fill="#333340"/>
<circle cx="451.19" cy="113.9" r="0.72" fill="#333340"/>
<circle cx="466.76" cy="81.5" r="0.72" fill="#333340"/>
<circle cx="466.76" cy="86.1" r="0.72" fill="#333340"/>
<circle cx="466.76" cy="100.3" r="0.72" fill="#333340"/>
<circle cx="466.76" cy="110.8" r="0.72" fill="#333340"/>
<circle cx="466.76" cy="113.3" r="0.72" fill="#333340"/>
<circle cx="466.76" cy="114.8" r="0.72" fill="#333340"/>
<circle cx="466.76" cy="116.3" r="0.72" fill="#333340"/>
<circle cx="466.76" cy="117.8" r="0.72" fill="#333340"/>
<circle cx="466.76" cy="119.3" r="0.72" fill="#333340"/>
<circle cx="466.76" cy="120.8" r="0.72" fill="#333340"/>
<circle cx="466.76" cy="122.3" r="0.72" fill="#333340"/>
<circle cx="466.76" cy="123.8" r="0.72" fill="#333340"/>
<circle cx="466.76" cy="125.3" r="0.72" fill="#333340"/>
<circle cx="466.76" cy="127" r="0.72" fill="#333340"/>
<circle cx="466.76" cy="129.6" r="0.72" fill="#333340"/>
<circle cx="482.34" cy="79.3" r="0.72" fill="#333340"/>
<circle cx="482.34" cy="86.1" r="0.72" fill="#333340"/>
<circle cx="482.34" cy="91.8" r="0.72" fill="#333340"/>
<circle cx="482.34" cy="95" r="0.72" fill="#333340"/>
<circle cx="482.34" cy="98.5" r="0.72" fill="#333340"/>
<circle cx="482.34" cy="102" r="0.72" fill="#333340"/>
<circle cx="482.34" cy="105.5" r="0.72" fill="#333340"/>
<circle cx="482.34" cy="109" r="0.72" fill="#333340"/>
<circle cx="482.34" cy="112" r="0.72" fill="#333340"/>
<circle cx="482.34" cy="116" r="0.72" fill="#333340"/>
<circle cx="497.91" cy="99.6" r="0.7" fill="#08080c"/>
<circle cx="497.36" cy="100.8" r="0.7" fill="#08080c"/>
<circle cx="498.46" cy="100.8" r="0.7" fill="#08080c"/>
<circle cx="496.81" cy="102" r="0.7" fill="#08080c"/>
<circle cx="497.91" cy="102" r="0.7" fill="#08080c"/>
<circle cx="499.01" cy="102" r="0.7" fill="#08080c"/>
<circle cx="497.36" cy="103.2" r="0.7" fill="#08080c"/>
<circle cx="498.46" cy="103.2" r="0.7" fill="#08080c"/>
<circle cx="496.81" cy="104.4" r="0.7" fill="#08080c"/>
<circle cx="497.91" cy="104.4" r="0.7" fill="#08080c"/>
<circle cx="499.01" cy="104.4" r="0.7" fill="#08080c"/>
<circle cx="496.26" cy="105.6" r="0.7" fill="#08080c"/>
<circle cx="497.36" cy="105.6" r="0.7" fill="#08080c"/>
<circle cx="498.46" cy="105.6" r="0.7" fill="#08080c"/>
<circle cx="499.56" cy="105.6" r="0.7" fill="#08080c"/>
<circle cx="495.71" cy="106.8" r="0.7" fill="#08080c"/>
<circle cx="496.81" cy="106.8" r="0.7" fill="#08080c"/>
<circle cx="497.91" cy="106.8" r="0.7" fill="#08080c"/>
<circle cx="499.01" cy="106.8" r="0.7" fill="#08080c"/>
<circle cx="500.11" cy="106.8" r="0.7" fill="#08080c"/>
<circle cx="496.26" cy="108" r="0.7" fill="#08080c"/>
<circle cx="497.36" cy="108" r="0.7" fill="#08080c"/>
<circle cx="498.46" cy="108" r="0.7" fill="#08080c"/>
<circle cx="499.56" cy="108" r="0.7" fill="#08080c"/>
<circle cx="495.71" cy="109.2" r="0.7" fill="#08080c"/>
<circle cx="496.81" cy="109.2" r="0.7" fill="#08080c"/>
<circle cx="497.91" cy="109.2" r="0.7" fill="#08080c"/>
<circle cx="499.01" cy="109.2" r="0.7" fill="#08080c"/>
<circle cx="500.11" cy="109.2" r="0.7" fill="#08080c"/>
<circle cx="496.26" cy="110.4" r="0.7" fill="#08080c"/>
<circle cx="497.36" cy="110.4" r="0.7" fill="#08080c"/>
<circle cx="498.46" cy="110.4" r="0.7" fill="#08080c"/>
<circle cx="499.56" cy="110.4" r="0.7" fill="#08080c"/>
<circle cx="495.71" cy="111.6" r="0.7" fill="#08080c"/>
<circle cx="496.81" cy="111.6" r="0.7" fill="#08080c"/>
<circle cx="497.91" cy="111.6" r="0.7" fill="#08080c"/>
<circle cx="499.01" cy="111.6" r="0.7" fill="#08080c"/>
<circle cx="500.11" cy="111.6" r="0.7" fill="#08080c"/>
<circle cx="496.26" cy="112.8" r="0.7" fill="#08080c"/>
<circle cx="497.36" cy="112.8" r="0.7" fill="#08080c"/>
<circle cx="498.46" cy="112.8" r="0.7" fill="#08080c"/>
<circle cx="499.56" cy="112.8" r="0.7" fill="#08080c"/>
<circle cx="495.71" cy="114" r="0.7" fill="#08080c"/>
<circle cx="496.81" cy="114" r="0.7" fill="#08080c"/>
<circle cx="497.91" cy="114" r="0.7" fill="#08080c"/>
<circle cx="499.01" cy="114" r="0.7" fill="#08080c"/>
<circle cx="500.11" cy="114" r="0.7" fill="#08080c"/>
<circle cx="497.36" cy="115.2" r="0.7" fill="#08080c"/>
<circle cx="498.46" cy="115.2" r="0.7" fill="#08080c"/>
<circle cx="496.81" cy="116.4" r="0.7" fill="#08080c"/>
<circle cx="497.91" cy="116.4" r="0.7" fill="#08080c"/>
<circle cx="499.01" cy="116.4" r="0.7" fill="#08080c"/>
<circle cx="497.36" cy="117.6" r="0.7" fill="#08080c"/>
<circle cx="498.46" cy="117.6" r="0.7" fill="#08080c"/>
<circle cx="497.91" cy="118.8" r="0.7" fill="#08080c"/>
<circle cx="497.91" cy="120" r="0.7" fill="#08080c"/>
<circle cx="497.91" cy="54.8" r="0.72" fill="#333340"/>
<circle cx="497.91" cy="61.7" r="0.72" fill="#333340"/>
<circle cx="497.91" cy="71.2" r="0.72" fill="#333340"/>
<circle cx="497.91" cy="74.9" r="0.72" fill="#333340"/>
<circle cx="497.91" cy="78.6" r="0.72" fill="#333340"/>
<circle cx="497.91" cy="86.8" r="0.72" fill="#333340"/>
<circle cx="497.91" cy="90" r="0.72" fill="#333340"/>
<circle cx="497.91" cy="94.1" r="0.72" fill="#333340"/>
<circle cx="497.91" cy="97.2" r="0.72" fill="#333340"/>
<circle cx="497.91" cy="122" r="0.72" fill="#333340"/>
<circle cx="497.91" cy="124.5" r="0.72" fill="#333340"/>
<circle cx="497.91" cy="126.5" r="0.72" fill="#333340"/>
<circle cx="497.91" cy="128.3" r="0.72" fill="#333340"/>
<line x1="379.2" y1="138.8" x2="381.1" y2="138.8" stroke="#999" stroke-width="0.8" />
<text x="378" y="141.8" font-size="6.5" text-anchor="end" fill="#222" color="#222" >0</text>
<line x1="379.2" y1="127.56" x2="381.1" y2="127.56" stroke="#999" stroke-width="0.8" />
<text x="378" y="130.56" font-size="6.5" text-anchor="end" fill="#222" color="#222" >200</text>
<line x1="379.2" y1="116.32" x2="381.1" y2="116.32" stroke="#999" stroke-width="0.8" />
<text x="378" y="119.32" font-size="6.5" text-anchor="end" fill="#222" color="#222" >400</text>
<line x1="379.2" y1="105.08" x2="381.1" y2="105.08" stroke="#999" stroke-width="0.8" />
<text x="378" y="108.08" font-size="6.5" text-anchor="end" fill="#222" color="#222" >600</text>
<line x1="379.2" y1="93.84" x2="381.1" y2="93.84" stroke="#999" stroke-width="0.8" />
<text x="378" y="96.84" font-size="6.5" text-anchor="end" fill="#222" color="#222" >800</text>
<line x1="379.2" y1="82.6" x2="381.1" y2="82.6" stroke="#999" stroke-width="0.8" />
<text x="378" y="85.6" font-size="6.5" text-anchor="end" fill="#222" color="#222" >1,000</text>
<line x1="379.2" y1="71.36" x2="381.1" y2="71.36" stroke="#999" stroke-width="0.8" />
<text x="378" y="74.36" font-size="6.5" text-anchor="end" fill="#222" color="#222" >1,200</text>
<line x1="379.2" y1="60.12" x2="381.1" y2="60.12" stroke="#999" stroke-width="0.8" />
<text x="378" y="63.12" font-size="6.5" text-anchor="end" fill="#222" color="#222" >1,400</text>
<line x1="379.2" y1="48.88" x2="381.1" y2="48.88" stroke="#999" stroke-width="0.8" />
<text x="378" y="51.88" font-size="6.5" text-anchor="end" fill="#222" color="#222" >1,600</text>
<line x1="379.2" y1="37.64" x2="381.1" y2="37.64" stroke="#999" stroke-width="0.8" />
<text x="378" y="40.64" font-size="6.5" text-anchor="end" fill="#222" color="#222" >1,800</text>
<line x1="379.2" y1="26.4" x2="381.1" y2="26.4" stroke="#999" stroke-width="0.8" />
<text x="378" y="29.4" font-size="6.5" text-anchor="end" fill="#222" color="#222" >2,000</text>
<line x1="388.89" y1="138.8" x2="388.89" y2="140.1" stroke="#999" stroke-width="0.8" />
<line x1="404.46" y1="138.8" x2="404.46" y2="140.1" stroke="#999" stroke-width="0.8" />
<line x1="420.04" y1="138.8" x2="420.04" y2="140.1" stroke="#999" stroke-width="0.8" />
<line x1="435.61" y1="138.8" x2="435.61" y2="140.1" stroke="#999" stroke-width="0.8" />
<line x1="451.19" y1="138.8" x2="451.19" y2="140.1" stroke="#999" stroke-width="0.8" />
<line x1="466.76" y1="138.8" x2="466.76" y2="140.1" stroke="#999" stroke-width="0.8" />
<line x1="482.34" y1="138.8" x2="482.34" y2="140.1" stroke="#999" stroke-width="0.8" />
<line x1="497.91" y1="138.8" x2="497.91" y2="140.1" stroke="#999" stroke-width="0.8" />
<text x="385.2" y="144" font-size="6.45" font-weight="bold" fill="#111" color="#111" transform="rotate(90 385.2 144)" >Neuroblastoma</text>
<text x="402.26" y="144" font-size="6.45" font-weight="bold" fill="#111" color="#111" transform="rotate(90 402.26 144)" >Breast</text>
<text x="417.84" y="144" font-size="6.45" font-weight="bold" fill="#111" color="#111" transform="rotate(90 417.84 144)" >Pancreatic</text>
<text x="433.41" y="144" font-size="6.45" font-weight="bold" fill="#111" color="#111" transform="rotate(90 433.41 144)" >Lymphoma</text>
<text x="448.99" y="144" font-size="6.45" font-weight="bold" fill="#111" color="#111" transform="rotate(90 448.99 144)" >Medulloblastoma</text>
<text x="464.56" y="144" font-size="6.45" font-weight="bold" fill="#111" color="#111" transform="rotate(90 464.56 144)" >Melanoma</text>
<text x="480.14" y="144" font-size="6.45" font-weight="bold" fill="#111" color="#111" transform="rotate(90 480.14 144)" >Rhabdomyosarcoma</text>
<text x="495.71" y="144" font-size="6.45" font-weight="bold" fill="#111" color="#111" transform="rotate(90 495.71 144)" >Various other</text>
<text x="358.1" y="102.7" font-size="7.5" font-weight="bold" fill="#111" color="#111" transform="rotate(-90 358.1 102.7)" >Expression</text>
<text x="349.9" y="24.6" font-size="12" font-weight="bold" fill="#000" color="#000" >B</text>
<line x1="65.2" y1="217.5" x2="214.4" y2="217.5" stroke="#bdbdbd" stroke-width="1" />
<line x1="65.2" y1="217.5" x2="65.2" y2="338.6" stroke="#bdbdbd" stroke-width="1" />
<line x1="102.5" y1="217.5" x2="102.5" y2="338.6" stroke="#bdbdbd" stroke-width="1" />
<line x1="139.8" y1="217.5" x2="139.8" y2="338.6" stroke="#bdbdbd" stroke-width="1" />
<line x1="177.1" y1="217.5" x2="177.1" y2="338.6" stroke="#bdbdbd" stroke-width="1" />
<line x1="214.4" y1="217.5" x2="214.4" y2="338.6" stroke="#bdbdbd" stroke-width="1" />
<line x1="63.7" y1="338.6" x2="214.4" y2="338.6" stroke="#bdbdbd" stroke-width="1" />
<line x1="67.4" y1="260.2" x2="100.3" y2="260.2" stroke="#a0a0a0" stroke-width="1.8" />
<circle cx="83.8" cy="243.2" r="1.45" fill="none" stroke="#555" stroke-width="0.8"/>
<circle cx="83.8" cy="266.6" r="1.45" fill="none" stroke="#555" stroke-width="0.8"/>
<circle cx="83.8" cy="271.1" r="1.45" fill="none" stroke="#555" stroke-width="0.8"/>
<line x1="83.85" y1="338.6" x2="83.85" y2="339.9" stroke="#999" stroke-width="0.8" />
<line x1="104.7" y1="264.6" x2="137.6" y2="264.6" stroke="#a0a0a0" stroke-width="1.8" />
<circle cx="121.3" cy="227.2" r="1.45" fill="none" stroke="#555" stroke-width="0.8"/>
<circle cx="121.3" cy="257.4" r="1.45" fill="none" stroke="#555" stroke-width="0.8"/>
<circle cx="121.3" cy="266.6" r="1.45" fill="none" stroke="#555" stroke-width="0.8"/>
<circle cx="121.3" cy="308.4" r="1.45" fill="none" stroke="#555" stroke-width="0.8"/>
<line x1="121.15" y1="338.6" x2="121.15" y2="339.9" stroke="#999" stroke-width="0.8" />
<line x1="142" y1="294.4" x2="174.9" y2="294.4" stroke="#a0a0a0" stroke-width="1.8" />
<circle cx="158.4" cy="289.6" r="1.45" fill="none" stroke="#555" stroke-width="0.8"/>
<circle cx="156" cy="296.6" r="1.45" fill="none" stroke="#555" stroke-width="0.8"/>
<circle cx="158.9" cy="296" r="1.45" fill="none" stroke="#555" stroke-width="0.8"/>
<line x1="158.45" y1="338.6" x2="158.45" y2="339.9" stroke="#999" stroke-width="0.8" />
<line x1="179.3" y1="302.3" x2="212.2" y2="302.3" stroke="#a0a0a0" stroke-width="1.8" />
<circle cx="195.9" cy="272.6" r="1.45" fill="none" stroke="#555" stroke-width="0.8"/>
<circle cx="195.9" cy="277.7" r="1.45" fill="none" stroke="#555" stroke-width="0.8"/>
<circle cx="195.9" cy="285.6" r="1.45" fill="none" stroke="#555" stroke-width="0.8"/>
<circle cx="195.9" cy="289.4" r="1.45" fill="none" stroke="#555" stroke-width="0.8"/>
<circle cx="195.9" cy="299" r="1.45" fill="none" stroke="#555" stroke-width="0.8"/>
<circle cx="195.9" cy="304.6" r="1.45" fill="none" stroke="#555" stroke-width="0.8"/>
<circle cx="195.9" cy="312.9" r="1.45" fill="none" stroke="#555" stroke-width="0.8"/>
<circle cx="192.6" cy="316" r="1.45" fill="none" stroke="#555" stroke-width="0.8"/>
<circle cx="196.2" cy="316.5" r="1.45" fill="none" stroke="#555" stroke-width="0.8"/>
<circle cx="195.9" cy="322.7" r="1.45" fill="none" stroke="#555" stroke-width="0.8"/>
<circle cx="195.9" cy="326.3" r="1.45" fill="none" stroke="#555" stroke-width="0.8"/>
<line x1="195.75" y1="338.6" x2="195.75" y2="339.9" stroke="#999" stroke-width="0.8" />
<line x1="63" y1="338.6" x2="65.2" y2="338.6" stroke="#999" stroke-width="0.8" />
<text x="62.6" y="340.9" font-size="6.4" text-anchor="end" fill="#222" color="#222" >0</text>
<line x1="63" y1="318.42" x2="65.2" y2="318.42" stroke="#999" stroke-width="0.8" />
<text x="62.6" y="320.72" font-size="6.4" text-anchor="end" fill="#222" color="#222" >1,000</text>
<line x1="63" y1="298.23" x2="65.2" y2="298.23" stroke="#999" stroke-width="0.8" />
<text x="62.6" y="300.53" font-size="6.4" text-anchor="end" fill="#222" color="#222" >2,000</text>
<line x1="63" y1="278.05" x2="65.2" y2="278.05" stroke="#999" stroke-width="0.8" />
<text x="62.6" y="280.35" font-size="6.4" text-anchor="end" fill="#222" color="#222" >3,000</text>
<line x1="63" y1="257.87" x2="65.2" y2="257.87" stroke="#999" stroke-width="0.8" />
<text x="62.6" y="260.17" font-size="6.4" text-anchor="end" fill="#222" color="#222" >4,000</text>
<line x1="63" y1="237.68" x2="65.2" y2="237.68" stroke="#999" stroke-width="0.8" />
<text x="62.6" y="239.98" font-size="6.4" text-anchor="end" fill="#222" color="#222" >5,000</text>
<line x1="63" y1="217.5" x2="65.2" y2="217.5" stroke="#999" stroke-width="0.8" />
<text x="62.6" y="219.8" font-size="6.4" text-anchor="end" fill="#222" color="#222" >6,000</text>
<text x="83.55" y="345.1" font-size="6.9" font-weight="bold" fill="#111" color="#111" transform="rotate(90 83.55 345.1)" >Primary adrenal</text>
<text x="74.65" y="345.1" font-size="6.9" font-weight="bold" fill="#111" color="#111" transform="rotate(90 74.65 345.1)" >neuroblasts</text>
<text x="118.55" y="345.1" font-size="6.9" font-weight="bold" fill="#111" color="#111" transform="rotate(90 118.55 345.1)" >Stage I NB</text>
<text x="157.35" y="345.1" font-size="6.9" font-weight="bold" fill="#111" color="#111" transform="rotate(90 157.35 345.1)" >Stage III NB</text>
<text x="193.15" y="345.1" font-size="6.9" font-weight="bold" fill="#111" color="#111" transform="rotate(90 193.15 345.1)" >Stage IV NB</text>
<text x="40.5" y="298.2" font-size="7.4" font-weight="bold" fill="#111" color="#111" transform="rotate(-90 40.5 298.2)" >Expression</text>
<text x="13.2" y="214.6" font-size="12" font-weight="bold" fill="#000" color="#000" >C</text>
<line x1="363.6" y1="221.5" x2="363.6" y2="373.5" stroke="#888" stroke-width="1" />
<line x1="363.6" y1="373.8" x2="500" y2="373.8" stroke="#888" stroke-width="1" />
<line x1="362" y1="372.3" x2="363.6" y2="372.3" stroke="#888" stroke-width="0.8" />
<text x="361.3" y="374.7" font-size="6.8" text-anchor="end" fill="#222" color="#222" >0.00</text>
<line x1="362" y1="357.3" x2="363.6" y2="357.3" stroke="#888" stroke-width="0.8" />
<text x="361.3" y="359.7" font-size="6.8" text-anchor="end" fill="#222" color="#222" >0.10</text>
<line x1="362" y1="342.3" x2="363.6" y2="342.3" stroke="#888" stroke-width="0.8" />
<text x="361.3" y="344.7" font-size="6.8" text-anchor="end" fill="#222" color="#222" >0.20</text>
<line x1="362" y1="327.3" x2="363.6" y2="327.3" stroke="#888" stroke-width="0.8" />
<text x="361.3" y="329.7" font-size="6.8" text-anchor="end" fill="#222" color="#222" >0.30</text>
<line x1="362" y1="312.3" x2="363.6" y2="312.3" stroke="#888" stroke-width="0.8" />
<text x="361.3" y="314.7" font-size="6.8" text-anchor="end" fill="#222" color="#222" >0.40</text>
<line x1="362" y1="297.3" x2="363.6" y2="297.3" stroke="#888" stroke-width="0.8" />
<text x="361.3" y="299.7" font-size="6.8" text-anchor="end" fill="#222" color="#222" >0.50</text>
<line x1="362" y1="282.3" x2="363.6" y2="282.3" stroke="#888" stroke-width="0.8" />
<text x="361.3" y="284.7" font-size="6.8" text-anchor="end" fill="#222" color="#222" >0.60</text>
<line x1="362" y1="267.3" x2="363.6" y2="267.3" stroke="#888" stroke-width="0.8" />
<text x="361.3" y="269.7" font-size="6.8" text-anchor="end" fill="#222" color="#222" >0.70</text>
<line x1="362" y1="252.3" x2="363.6" y2="252.3" stroke="#888" stroke-width="0.8" />
<text x="361.3" y="254.7" font-size="6.8" text-anchor="end" fill="#222" color="#222" >0.80</text>
<line x1="362" y1="237.3" x2="363.6" y2="237.3" stroke="#888" stroke-width="0.8" />
<text x="361.3" y="239.7" font-size="6.8" text-anchor="end" fill="#222" color="#222" >0.90</text>
<line x1="362" y1="222.3" x2="363.6" y2="222.3" stroke="#888" stroke-width="0.8" />
<text x="361.3" y="224.7" font-size="6.8" text-anchor="end" fill="#222" color="#222" >1.00</text>
<line x1="363.5" y1="373.8" x2="363.5" y2="372.4" stroke="#888" stroke-width="0.8" />
<text x="363.5" y="382" font-size="6.6" text-anchor="middle" fill="#222" color="#222" >0</text>
<line x1="378.5" y1="373.8" x2="378.5" y2="372.4" stroke="#888" stroke-width="0.8" />
<text x="378.5" y="382" font-size="6.6" text-anchor="middle" fill="#222" color="#222" >24</text>
<line x1="393.5" y1="373.8" x2="393.5" y2="372.4" stroke="#888" stroke-width="0.8" />
<text x="393.5" y="382" font-size="6.6" text-anchor="middle" fill="#222" color="#222" >48</text>
<line x1="408.5" y1="373.8" x2="408.5" y2="372.4" stroke="#888" stroke-width="0.8" />
<text x="408.5" y="382" font-size="6.6" text-anchor="middle" fill="#222" color="#222" >72</text>
<line x1="423.5" y1="373.8" x2="423.5" y2="372.4" stroke="#888" stroke-width="0.8" />
<text x="423.5" y="382" font-size="6.6" text-anchor="middle" fill="#222" color="#222" >96</text>
<line x1="438.5" y1="373.8" x2="438.5" y2="372.4" stroke="#888" stroke-width="0.8" />
<text x="438.5" y="382" font-size="6.6" text-anchor="middle" fill="#222" color="#222" >120</text>
<line x1="453.5" y1="373.8" x2="453.5" y2="372.4" stroke="#888" stroke-width="0.8" />
<text x="453.5" y="382" font-size="6.6" text-anchor="middle" fill="#222" color="#222" >144</text>
<line x1="468.5" y1="373.8" x2="468.5" y2="372.4" stroke="#888" stroke-width="0.8" />
<text x="468.5" y="382" font-size="6.6" text-anchor="middle" fill="#222" color="#222" >168</text>
<line x1="483.5" y1="373.8" x2="483.5" y2="372.4" stroke="#888" stroke-width="0.8" />
<text x="483.5" y="382" font-size="6.6" text-anchor="middle" fill="#222" color="#222" >192</text>
<polyline points="363.5,222.3 366.62,222.3 366.62,229.05 367.25,229.05 367.25,235.95 367.88,235.95 367.88,242.7 368.81,242.7 368.81,249.6 369.44,249.6 369.44,256.35 370.06,256.35 370.06,263.25 371,263.25 371,270 372.25,270 372.25,276.9 373.19,276.9 373.19,283.65 374.12,283.65 374.12,290.55 374.88,290.55 374.88,297.3 375.25,297.3 375.25,304.05 375.5,304.05 375.5,310.95 375.69,310.95 375.69,317.7 375.88,317.7 375.88,326.55 381.81,326.55 381.81,334.05 393.5,334.05 393.5,341.7 498.5,341.7" fill="none" stroke="#b3223a" stroke-width="0.9"/>
<polyline points="363.5,222.3 367.25,222.3 367.25,227.1 368.81,227.1 368.81,232.05 370.19,232.05 370.19,236.85 370.69,236.85 370.69,241.65 371.31,241.65 371.31,246.45 372,246.45 372,251.4 372.5,251.4 372.5,256.2 376.5,256.2 376.5,261 377.25,261 377.25,265.8 378,265.8 378,270.75 380,270.75 380,275.55 388.81,275.55 388.81,280.8 390.06,280.8 390.06,286.35 500.38,286.35" fill="none" stroke="#333d7c" stroke-width="0.9"/>
<line x1="407.3" y1="286.35" x2="407.3" y2="284.75" stroke="#333d7c" stroke-width="0.7" />
<line x1="411.9" y1="286.35" x2="411.9" y2="284.75" stroke="#333d7c" stroke-width="0.7" />
<line x1="415.4" y1="286.35" x2="415.4" y2="284.75" stroke="#333d7c" stroke-width="0.7" />
<line x1="424.6" y1="286.35" x2="424.6" y2="284.75" stroke="#333d7c" stroke-width="0.7" />
<line x1="431.5" y1="286.35" x2="431.5" y2="284.75" stroke="#333d7c" stroke-width="0.7" />
<line x1="437.3" y1="286.35" x2="437.3" y2="284.75" stroke="#333d7c" stroke-width="0.7" />
<line x1="451" y1="286.35" x2="451" y2="284.75" stroke="#333d7c" stroke-width="0.7" />
<line x1="453" y1="286.35" x2="453" y2="284.75" stroke="#333d7c" stroke-width="0.7" />
<line x1="455" y1="286.35" x2="455" y2="284.75" stroke="#333d7c" stroke-width="0.7" />
<line x1="457" y1="286.35" x2="457" y2="284.75" stroke="#333d7c" stroke-width="0.7" />
<line x1="491.5" y1="286.35" x2="491.5" y2="284.75" stroke="#333d7c" stroke-width="0.7" />
<line x1="499.5" y1="286.35" x2="499.5" y2="284.75" stroke="#333d7c" stroke-width="0.7" />
<line x1="414.2" y1="341.7" x2="414.2" y2="340.1" stroke="#b3223a" stroke-width="0.7" />
<line x1="422.3" y1="341.7" x2="422.3" y2="340.1" stroke="#b3223a" stroke-width="0.7" />
<line x1="467.3" y1="341.7" x2="467.3" y2="340.1" stroke="#b3223a" stroke-width="0.7" />
<line x1="497.3" y1="341.7" x2="497.3" y2="340.1" stroke="#b3223a" stroke-width="0.7" />
<text x="394.6" y="280.4" font-size="8.1" font-weight="bold" fill="#333d7c" color="#333d7c" >High FOXO3a (31 tumors)</text>
<text x="400" y="335" font-size="8.15" font-weight="bold" fill="#b3223a" color="#b3223a" >Low FOXO3a (22 tumors)</text>
<text x="424.6" y="365.7" font-size="8.0" font-weight="bold" fill="#111" color="#111" ><tspan font-style="italic">P</tspan> = 6.8e-03</text>
<text x="398.3" y="391.7" font-size="7.6" fill="#222" color="#222" >Follow up in months</text>
<text x="342" y="341.6" font-size="7.55" fill="#222" color="#222" transform="rotate(-90 342 341.6)" >Overall survival probability</text>
<text x="337.8" y="214.6" font-size="11.5" font-weight="bold" fill="#000" color="#000" >D</text>
<rect x="1.5" y="1.5" width="517" height="407" fill="none" stroke="#d2d2d2" stroke-width="1"/>
<rect x="0.5" y="0.5" width="519" height="409" fill="none" stroke="#777" stroke-width="1"/>
</svg>
</body></html>
